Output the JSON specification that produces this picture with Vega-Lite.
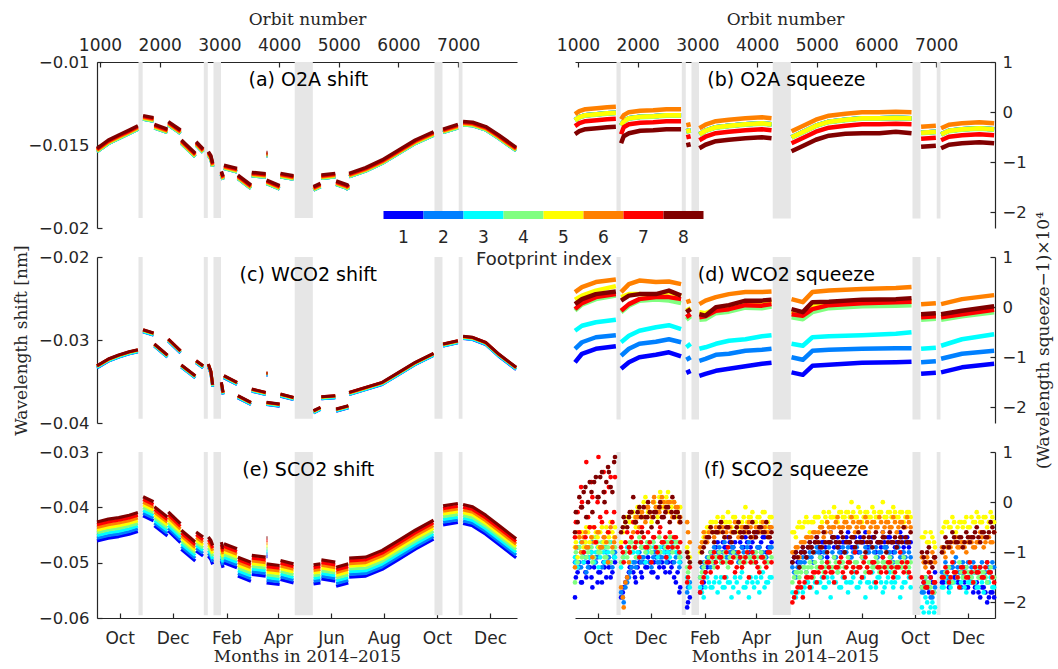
{
"$schema": "https://vega.github.io/schema/vega-lite/v6.json",
"background": "#ffffff",
"padding": {"left": 12, "top": 10, "right": 2, "bottom": 2},
"config": {
  "view": {"stroke": null},
  "font": "DejaVu Sans",
  "axis": {"grid": false, "labelFlush": false, "labelOverlap": false, "domainColor": "#262626", "domainWidth": 1.2, "tickColor": "#262626", "tickWidth": 1.2, "tickSize": -5, "labelColor": "#262626", "labelFont": "DejaVu Sans", "labelFontSize": 17, "titleColor": "#262626", "titleFont": "DejaVu Serif", "titleFontSize": 17, "titleFontWeight": "normal"},
  "axisLeft": {"labelPadding": 13, "labelFontSize": 16.5},
  "axisRight": {"labelPadding": 12, "labelFontSize": 16.5},
  "axisTop": {"labelPadding": 13},
  "axisBottom": {"labelPadding": 17}
},
"datasets": {
  "gaps": [{"o1":1645,"o2":1715},{"o1":2739,"o2":2806},{"o1":2901,"o2":3027},{"o1":4262,"o2":4565},{"o1":6603,"o2":6737},{"o1":7009,"o2":7072}],
  "cbar": [{"n":1,"fp":"f1"},{"n":2,"fp":"f2"},{"n":3,"fp":"f3"},{"n":4,"fp":"f4"},{"n":5,"fp":"f5"},{"n":6,"fp":"f6"},{"n":7,"fp":"f7"},{"n":8,"fp":"f8"}],
  "a": [
{"d":"2014-09-05","s":1,"f1":-0.0154,"f2":-0.0154,"f3":-0.0154,"f4":-0.0154,"f5":-0.01534,"f6":-0.01532,"f7":-0.01526,"f8":-0.0152},
{"d":"2014-09-18","s":1,"f1":-0.01491,"f2":-0.01491,"f3":-0.01491,"f4":-0.01491,"f5":-0.01485,"f6":-0.01483,"f7":-0.01477,"f8":-0.01471},
{"d":"2014-09-30","s":1,"f1":-0.0146,"f2":-0.0146,"f3":-0.0146,"f4":-0.0146,"f5":-0.01454,"f6":-0.01452,"f7":-0.01446,"f8":-0.0144},
{"d":"2014-10-12","s":1,"f1":-0.0143,"f2":-0.0143,"f3":-0.0143,"f4":-0.0143,"f5":-0.01424,"f6":-0.01422,"f7":-0.01416,"f8":-0.0141},
{"d":"2014-10-22","s":1,"f1":-0.01404,"f2":-0.01404,"f3":-0.01404,"f4":-0.01404,"f5":-0.01398,"f6":-0.01396,"f7":-0.0139,"f8":-0.01384},
{"d":"2014-10-28","s":2,"f1":-0.01343,"f2":-0.01343,"f3":-0.01343,"f4":-0.01343,"f5":-0.01337,"f6":-0.01335,"f7":-0.01329,"f8":-0.01323},
{"d":"2014-11-09","s":2,"f1":-0.01355,"f2":-0.01355,"f3":-0.01355,"f4":-0.01355,"f5":-0.01349,"f6":-0.01347,"f7":-0.01341,"f8":-0.01335},
{"d":"2014-11-10","s":3,"f1":-0.01396,"f2":-0.01396,"f3":-0.01396,"f4":-0.01396,"f5":-0.0139,"f6":-0.01388,"f7":-0.01382,"f8":-0.01376},
{"d":"2014-11-25","s":3,"f1":-0.01424,"f2":-0.01424,"f3":-0.01424,"f4":-0.01424,"f5":-0.01418,"f6":-0.01416,"f7":-0.0141,"f8":-0.01404},
{"d":"2014-11-26","s":4,"f1":-0.01379,"f2":-0.01379,"f3":-0.01379,"f4":-0.01379,"f5":-0.01373,"f6":-0.01371,"f7":-0.01365,"f8":-0.01359},
{"d":"2014-12-10","s":4,"f1":-0.0143,"f2":-0.0143,"f3":-0.0143,"f4":-0.0143,"f5":-0.01424,"f6":-0.01422,"f7":-0.01416,"f8":-0.0141},
{"d":"2014-12-11","s":5,"f1":-0.0149,"f2":-0.0149,"f3":-0.0149,"f4":-0.0149,"f5":-0.01484,"f6":-0.01482,"f7":-0.01476,"f8":-0.0147},
{"d":"2014-12-27","s":5,"f1":-0.0157,"f2":-0.0157,"f3":-0.0157,"f4":-0.0157,"f5":-0.01564,"f6":-0.01562,"f7":-0.01556,"f8":-0.0155},
{"d":"2014-12-28","s":6,"f1":-0.015,"f2":-0.015,"f3":-0.015,"f4":-0.015,"f5":-0.01494,"f6":-0.01492,"f7":-0.01486,"f8":-0.0148},
{"d":"2015-01-05","s":6,"f1":-0.01544,"f2":-0.01544,"f3":-0.01544,"f4":-0.01544,"f5":-0.01538,"f6":-0.01536,"f7":-0.0153,"f8":-0.01524},
{"d":"2015-01-11","s":7,"f1":-0.0156,"f2":-0.0156,"f3":-0.0156,"f4":-0.0156,"f5":-0.01554,"f6":-0.01552,"f7":-0.01546,"f8":-0.0154},
{"d":"2015-01-14","s":7,"f1":-0.01585,"f2":-0.01585,"f3":-0.01585,"f4":-0.01585,"f5":-0.01579,"f6":-0.01577,"f7":-0.01571,"f8":-0.01565},
{"d":"2015-01-16","s":7,"f1":-0.0163,"f2":-0.0163,"f3":-0.0163,"f4":-0.0163,"f5":-0.01624,"f6":-0.01622,"f7":-0.01616,"f8":-0.0161},
{"d":"2015-01-26","s":8,"f1":-0.01679,"f2":-0.01679,"f3":-0.01679,"f4":-0.01679,"f5":-0.01673,"f6":-0.01671,"f7":-0.01665,"f8":-0.01659},
{"d":"2015-01-28","s":8,"f1":-0.01709,"f2":-0.01709,"f3":-0.01709,"f4":-0.01709,"f5":-0.01703,"f6":-0.01701,"f7":-0.01695,"f8":-0.01689},
{"d":"2015-01-29","s":9,"f1":-0.01641,"f2":-0.01641,"f3":-0.01641,"f4":-0.01641,"f5":-0.01635,"f6":-0.01633,"f7":-0.01627,"f8":-0.01621},
{"d":"2015-02-13","s":9,"f1":-0.01661,"f2":-0.01661,"f3":-0.01661,"f4":-0.01661,"f5":-0.01655,"f6":-0.01653,"f7":-0.01647,"f8":-0.01641},
{"d":"2015-02-14","s":10,"f1":-0.01701,"f2":-0.01701,"f3":-0.01701,"f4":-0.01701,"f5":-0.01695,"f6":-0.01693,"f7":-0.01687,"f8":-0.01681},
{"d":"2015-03-01","s":10,"f1":-0.01761,"f2":-0.01761,"f3":-0.01761,"f4":-0.01761,"f5":-0.01755,"f6":-0.01753,"f7":-0.01747,"f8":-0.01741},
{"d":"2015-03-02","s":11,"f1":-0.01685,"f2":-0.01685,"f3":-0.01685,"f4":-0.01685,"f5":-0.01679,"f6":-0.01677,"f7":-0.01671,"f8":-0.01665},
{"d":"2015-03-18","s":11,"f1":-0.01693,"f2":-0.01693,"f3":-0.01693,"f4":-0.01693,"f5":-0.01687,"f6":-0.01685,"f7":-0.01679,"f8":-0.01673},
{"d":"2015-03-19","s":99,"f1":-0.01565,"f2":-0.01565,"f3":-0.01565,"f4":-0.01565,"f5":-0.01559,"f6":-0.01557,"f7":-0.01551,"f8":-0.01545},
{"d":"2015-03-20","s":99,"f1":-0.01565,"f2":-0.01565,"f3":-0.01565,"f4":-0.01565,"f5":-0.01559,"f6":-0.01557,"f7":-0.01551,"f8":-0.01545},
{"d":"2015-03-19","s":12,"f1":-0.01731,"f2":-0.01731,"f3":-0.01731,"f4":-0.01731,"f5":-0.01725,"f6":-0.01723,"f7":-0.01717,"f8":-0.01711},
{"d":"2015-04-03","s":12,"f1":-0.01765,"f2":-0.01765,"f3":-0.01765,"f4":-0.01765,"f5":-0.01759,"f6":-0.01757,"f7":-0.01751,"f8":-0.01745},
{"d":"2015-04-04","s":13,"f1":-0.01691,"f2":-0.01691,"f3":-0.01691,"f4":-0.01691,"f5":-0.01685,"f6":-0.01683,"f7":-0.01677,"f8":-0.01671},
{"d":"2015-04-19","s":13,"f1":-0.01705,"f2":-0.01705,"f3":-0.01705,"f4":-0.01705,"f5":-0.01699,"f6":-0.01697,"f7":-0.01691,"f8":-0.01685},
{"d":"2015-05-12","s":14,"f1":-0.01771,"f2":-0.01771,"f3":-0.01771,"f4":-0.01771,"f5":-0.01765,"f6":-0.01763,"f7":-0.01757,"f8":-0.01751},
{"d":"2015-05-20","s":14,"f1":-0.01751,"f2":-0.01751,"f3":-0.01751,"f4":-0.01751,"f5":-0.01745,"f6":-0.01743,"f7":-0.01737,"f8":-0.01731},
{"d":"2015-05-21","s":15,"f1":-0.01701,"f2":-0.01701,"f3":-0.01701,"f4":-0.01701,"f5":-0.01695,"f6":-0.01693,"f7":-0.01687,"f8":-0.01681},
{"d":"2015-06-06","s":15,"f1":-0.01691,"f2":-0.01691,"f3":-0.01691,"f4":-0.01691,"f5":-0.01685,"f6":-0.01683,"f7":-0.01677,"f8":-0.01671},
{"d":"2015-06-07","s":16,"f1":-0.01737,"f2":-0.01737,"f3":-0.01737,"f4":-0.01737,"f5":-0.01731,"f6":-0.01729,"f7":-0.01723,"f8":-0.01717},
{"d":"2015-06-20","s":16,"f1":-0.01761,"f2":-0.01761,"f3":-0.01761,"f4":-0.01761,"f5":-0.01755,"f6":-0.01753,"f7":-0.01747,"f8":-0.01741},
{"d":"2015-06-21","s":16,"f1":-0.0177,"f2":-0.0177,"f3":-0.0177,"f4":-0.0177,"f5":-0.01764,"f6":-0.01762,"f7":-0.01756,"f8":-0.0175},
{"d":"2015-06-22","s":17,"f1":-0.01691,"f2":-0.01691,"f3":-0.01691,"f4":-0.01691,"f5":-0.01685,"f6":-0.01683,"f7":-0.01677,"f8":-0.01671},
{"d":"2015-07-11","s":17,"f1":-0.01656,"f2":-0.01656,"f3":-0.01656,"f4":-0.01656,"f5":-0.0165,"f6":-0.01648,"f7":-0.01642,"f8":-0.01636},
{"d":"2015-07-30","s":17,"f1":-0.0161,"f2":-0.0161,"f3":-0.0161,"f4":-0.0161,"f5":-0.01604,"f6":-0.01602,"f7":-0.01596,"f8":-0.0159},
{"d":"2015-08-18","s":17,"f1":-0.0155,"f2":-0.0155,"f3":-0.0155,"f4":-0.0155,"f5":-0.01544,"f6":-0.01542,"f7":-0.01536,"f8":-0.0153},
{"d":"2015-09-06","s":17,"f1":-0.0149,"f2":-0.0149,"f3":-0.0149,"f4":-0.0149,"f5":-0.01484,"f6":-0.01482,"f7":-0.01476,"f8":-0.0147},
{"d":"2015-09-27","s":17,"f1":-0.0144,"f2":-0.0144,"f3":-0.0144,"f4":-0.0144,"f5":-0.01434,"f6":-0.01432,"f7":-0.01426,"f8":-0.0142},
{"d":"2015-10-08","s":18,"f1":-0.01424,"f2":-0.01424,"f3":-0.01424,"f4":-0.01424,"f5":-0.01418,"f6":-0.01416,"f7":-0.0141,"f8":-0.01404},
{"d":"2015-10-25","s":18,"f1":-0.01396,"f2":-0.01396,"f3":-0.01396,"f4":-0.01396,"f5":-0.0139,"f6":-0.01388,"f7":-0.01382,"f8":-0.01376},
{"d":"2015-10-31","s":19,"f1":-0.01379,"f2":-0.01379,"f3":-0.01379,"f4":-0.01379,"f5":-0.01373,"f6":-0.01371,"f7":-0.01365,"f8":-0.01359},
{"d":"2015-11-11","s":19,"f1":-0.01383,"f2":-0.01383,"f3":-0.01383,"f4":-0.01383,"f5":-0.01377,"f6":-0.01375,"f7":-0.01369,"f8":-0.01363},
{"d":"2015-11-26","s":19,"f1":-0.01409,"f2":-0.01409,"f3":-0.01409,"f4":-0.01409,"f5":-0.01403,"f6":-0.01401,"f7":-0.01395,"f8":-0.01389},
{"d":"2015-12-11","s":19,"f1":-0.0146,"f2":-0.0146,"f3":-0.0146,"f4":-0.0146,"f5":-0.01454,"f6":-0.01452,"f7":-0.01446,"f8":-0.0144},
{"d":"2015-12-31","s":19,"f1":-0.01534,"f2":-0.01534,"f3":-0.01534,"f4":-0.01534,"f5":-0.01528,"f6":-0.01526,"f7":-0.0152,"f8":-0.01514}
  ],
  "c": [
{"d":"2014-09-05","s":1,"f1":-0.03336,"f2":-0.03334,"f3":-0.03332,"f4":-0.0332,"f5":-0.03317,"f6":-0.03314,"f7":-0.03312,"f8":-0.0331},
{"d":"2014-09-18","s":1,"f1":-0.03255,"f2":-0.03253,"f3":-0.03251,"f4":-0.03239,"f5":-0.03236,"f6":-0.03233,"f7":-0.03231,"f8":-0.03229},
{"d":"2014-09-30","s":1,"f1":-0.03207,"f2":-0.03205,"f3":-0.03203,"f4":-0.03191,"f5":-0.03188,"f6":-0.03185,"f7":-0.03183,"f8":-0.03181},
{"d":"2014-10-12","s":1,"f1":-0.03167,"f2":-0.03165,"f3":-0.03163,"f4":-0.03151,"f5":-0.03148,"f6":-0.03145,"f7":-0.03143,"f8":-0.03141},
{"d":"2014-10-22","s":1,"f1":-0.03143,"f2":-0.03141,"f3":-0.03139,"f4":-0.03127,"f5":-0.03124,"f6":-0.03121,"f7":-0.03119,"f8":-0.03117},
{"d":"2014-10-28","s":2,"f1":-0.02902,"f2":-0.029,"f3":-0.02898,"f4":-0.02886,"f5":-0.02883,"f6":-0.0288,"f7":-0.02878,"f8":-0.02876},
{"d":"2014-11-09","s":2,"f1":-0.02942,"f2":-0.0294,"f3":-0.02938,"f4":-0.02926,"f5":-0.02923,"f6":-0.0292,"f7":-0.02918,"f8":-0.02916},
{"d":"2014-11-10","s":3,"f1":-0.03074,"f2":-0.03072,"f3":-0.0307,"f4":-0.03058,"f5":-0.03055,"f6":-0.03052,"f7":-0.0305,"f8":-0.03048},
{"d":"2014-11-25","s":3,"f1":-0.03207,"f2":-0.03205,"f3":-0.03203,"f4":-0.03191,"f5":-0.03188,"f6":-0.03185,"f7":-0.03183,"f8":-0.03181},
{"d":"2014-11-26","s":4,"f1":-0.03014,"f2":-0.03012,"f3":-0.0301,"f4":-0.02998,"f5":-0.02995,"f6":-0.02992,"f7":-0.0299,"f8":-0.02988},
{"d":"2014-12-10","s":4,"f1":-0.03155,"f2":-0.03153,"f3":-0.03151,"f4":-0.03139,"f5":-0.03136,"f6":-0.03133,"f7":-0.03131,"f8":-0.03129},
{"d":"2014-12-11","s":5,"f1":-0.03327,"f2":-0.03325,"f3":-0.03323,"f4":-0.03311,"f5":-0.03308,"f6":-0.03305,"f7":-0.03303,"f8":-0.03301},
{"d":"2014-12-27","s":5,"f1":-0.03456,"f2":-0.03454,"f3":-0.03452,"f4":-0.0344,"f5":-0.03437,"f6":-0.03434,"f7":-0.03432,"f8":-0.0343},
{"d":"2014-12-28","s":6,"f1":-0.03275,"f2":-0.03273,"f3":-0.03271,"f4":-0.03259,"f5":-0.03256,"f6":-0.03253,"f7":-0.03251,"f8":-0.03249},
{"d":"2015-01-05","s":6,"f1":-0.03336,"f2":-0.03334,"f3":-0.03332,"f4":-0.0332,"f5":-0.03317,"f6":-0.03314,"f7":-0.03312,"f8":-0.0331},
{"d":"2015-01-11","s":7,"f1":-0.03315,"f2":-0.03313,"f3":-0.03311,"f4":-0.03299,"f5":-0.03296,"f6":-0.03293,"f7":-0.03291,"f8":-0.03289},
{"d":"2015-01-14","s":7,"f1":-0.03404,"f2":-0.03402,"f3":-0.034,"f4":-0.03388,"f5":-0.03385,"f6":-0.03382,"f7":-0.0338,"f8":-0.03378},
{"d":"2015-01-16","s":7,"f1":-0.03564,"f2":-0.03562,"f3":-0.0356,"f4":-0.03548,"f5":-0.03545,"f6":-0.03542,"f7":-0.0354,"f8":-0.03538},
{"d":"2015-01-26","s":8,"f1":-0.03536,"f2":-0.03534,"f3":-0.03532,"f4":-0.0352,"f5":-0.03517,"f6":-0.03514,"f7":-0.03512,"f8":-0.0351},
{"d":"2015-01-28","s":8,"f1":-0.03657,"f2":-0.03655,"f3":-0.03653,"f4":-0.03641,"f5":-0.03638,"f6":-0.03635,"f7":-0.03633,"f8":-0.03631},
{"d":"2015-01-29","s":9,"f1":-0.03456,"f2":-0.03454,"f3":-0.03452,"f4":-0.0344,"f5":-0.03437,"f6":-0.03434,"f7":-0.03432,"f8":-0.0343},
{"d":"2015-02-13","s":9,"f1":-0.03536,"f2":-0.03534,"f3":-0.03532,"f4":-0.0352,"f5":-0.03517,"f6":-0.03514,"f7":-0.03512,"f8":-0.0351},
{"d":"2015-02-14","s":10,"f1":-0.03697,"f2":-0.03695,"f3":-0.03693,"f4":-0.03681,"f5":-0.03678,"f6":-0.03675,"f7":-0.03673,"f8":-0.03671},
{"d":"2015-03-01","s":10,"f1":-0.03777,"f2":-0.03775,"f3":-0.03773,"f4":-0.03761,"f5":-0.03758,"f6":-0.03755,"f7":-0.03753,"f8":-0.03751},
{"d":"2015-03-02","s":11,"f1":-0.03617,"f2":-0.03615,"f3":-0.03613,"f4":-0.03601,"f5":-0.03598,"f6":-0.03595,"f7":-0.03593,"f8":-0.03591},
{"d":"2015-03-18","s":11,"f1":-0.03657,"f2":-0.03655,"f3":-0.03653,"f4":-0.03641,"f5":-0.03638,"f6":-0.03635,"f7":-0.03633,"f8":-0.03631},
{"d":"2015-03-19","s":99,"f1":-0.03424,"f2":-0.03422,"f3":-0.0342,"f4":-0.03408,"f5":-0.03405,"f6":-0.03402,"f7":-0.034,"f8":-0.03398},
{"d":"2015-03-20","s":99,"f1":-0.03424,"f2":-0.03422,"f3":-0.0342,"f4":-0.03408,"f5":-0.03405,"f6":-0.03402,"f7":-0.034,"f8":-0.03398},
{"d":"2015-03-19","s":12,"f1":-0.03777,"f2":-0.03775,"f3":-0.03773,"f4":-0.03761,"f5":-0.03758,"f6":-0.03755,"f7":-0.03753,"f8":-0.03751},
{"d":"2015-04-03","s":12,"f1":-0.03797,"f2":-0.03795,"f3":-0.03793,"f4":-0.03781,"f5":-0.03778,"f6":-0.03775,"f7":-0.03773,"f8":-0.03771},
{"d":"2015-04-04","s":13,"f1":-0.03677,"f2":-0.03675,"f3":-0.03673,"f4":-0.03661,"f5":-0.03658,"f6":-0.03655,"f7":-0.03653,"f8":-0.03651},
{"d":"2015-04-19","s":13,"f1":-0.03717,"f2":-0.03715,"f3":-0.03713,"f4":-0.03701,"f5":-0.03698,"f6":-0.03695,"f7":-0.03693,"f8":-0.03691},
{"d":"2015-05-12","s":14,"f1":-0.03878,"f2":-0.03876,"f3":-0.03874,"f4":-0.03862,"f5":-0.03859,"f6":-0.03856,"f7":-0.03854,"f8":-0.03852},
{"d":"2015-05-20","s":14,"f1":-0.03837,"f2":-0.03835,"f3":-0.03833,"f4":-0.03821,"f5":-0.03818,"f6":-0.03815,"f7":-0.03813,"f8":-0.03811},
{"d":"2015-05-21","s":15,"f1":-0.03709,"f2":-0.03707,"f3":-0.03705,"f4":-0.03693,"f5":-0.0369,"f6":-0.03687,"f7":-0.03685,"f8":-0.03683},
{"d":"2015-06-06","s":15,"f1":-0.03697,"f2":-0.03695,"f3":-0.03693,"f4":-0.03681,"f5":-0.03678,"f6":-0.03675,"f7":-0.03673,"f8":-0.03671},
{"d":"2015-06-07","s":16,"f1":-0.03858,"f2":-0.03856,"f3":-0.03854,"f4":-0.03842,"f5":-0.03839,"f6":-0.03836,"f7":-0.03834,"f8":-0.03832},
{"d":"2015-06-21","s":16,"f1":-0.03818,"f2":-0.03816,"f3":-0.03814,"f4":-0.03802,"f5":-0.03799,"f6":-0.03796,"f7":-0.03794,"f8":-0.03792},
{"d":"2015-06-22","s":17,"f1":-0.03657,"f2":-0.03655,"f3":-0.03653,"f4":-0.03641,"f5":-0.03638,"f6":-0.03635,"f7":-0.03633,"f8":-0.03631},
{"d":"2015-07-11","s":17,"f1":-0.03597,"f2":-0.03595,"f3":-0.03593,"f4":-0.03581,"f5":-0.03578,"f6":-0.03575,"f7":-0.03573,"f8":-0.03571},
{"d":"2015-07-30","s":17,"f1":-0.03536,"f2":-0.03534,"f3":-0.03532,"f4":-0.0352,"f5":-0.03517,"f6":-0.03514,"f7":-0.03512,"f8":-0.0351},
{"d":"2015-08-18","s":17,"f1":-0.03416,"f2":-0.03414,"f3":-0.03412,"f4":-0.034,"f5":-0.03397,"f6":-0.03394,"f7":-0.03392,"f8":-0.0339},
{"d":"2015-09-06","s":17,"f1":-0.03295,"f2":-0.03293,"f3":-0.03291,"f4":-0.03279,"f5":-0.03276,"f6":-0.03273,"f7":-0.03271,"f8":-0.03269},
{"d":"2015-09-27","s":17,"f1":-0.03187,"f2":-0.03185,"f3":-0.03183,"f4":-0.03171,"f5":-0.03168,"f6":-0.03165,"f7":-0.03163,"f8":-0.03161},
{"d":"2015-10-08","s":18,"f1":-0.03074,"f2":-0.03072,"f3":-0.0307,"f4":-0.03058,"f5":-0.03055,"f6":-0.03052,"f7":-0.0305,"f8":-0.03048},
{"d":"2015-10-25","s":18,"f1":-0.03034,"f2":-0.03032,"f3":-0.0303,"f4":-0.03018,"f5":-0.03015,"f6":-0.03012,"f7":-0.0301,"f8":-0.03008},
{"d":"2015-10-31","s":19,"f1":-0.02982,"f2":-0.0298,"f3":-0.02978,"f4":-0.02966,"f5":-0.02963,"f6":-0.0296,"f7":-0.02958,"f8":-0.02956},
{"d":"2015-11-11","s":19,"f1":-0.02994,"f2":-0.02992,"f3":-0.0299,"f4":-0.02978,"f5":-0.02975,"f6":-0.02972,"f7":-0.0297,"f8":-0.02968},
{"d":"2015-11-26","s":19,"f1":-0.03054,"f2":-0.03052,"f3":-0.0305,"f4":-0.03038,"f5":-0.03035,"f6":-0.03032,"f7":-0.0303,"f8":-0.03028},
{"d":"2015-12-11","s":19,"f1":-0.03195,"f2":-0.03193,"f3":-0.03191,"f4":-0.03179,"f5":-0.03176,"f6":-0.03173,"f7":-0.03171,"f8":-0.03169},
{"d":"2015-12-31","s":19,"f1":-0.03355,"f2":-0.03353,"f3":-0.03351,"f4":-0.03339,"f5":-0.03336,"f6":-0.03333,"f7":-0.03331,"f8":-0.03329}
  ],
  "e": [
{"d":"2014-09-05","s":1,"f1":-0.04607,"f2":-0.04558,"f3":-0.04509,"f4":-0.0446,"f5":-0.04411,"f6":-0.04362,"f7":-0.04313,"f8":-0.04264},
{"d":"2014-09-18","s":1,"f1":-0.04557,"f2":-0.04508,"f3":-0.04459,"f4":-0.0441,"f5":-0.04361,"f6":-0.04312,"f7":-0.04263,"f8":-0.04214},
{"d":"2014-09-30","s":1,"f1":-0.04528,"f2":-0.04479,"f3":-0.0443,"f4":-0.04381,"f5":-0.04332,"f6":-0.04283,"f7":-0.04234,"f8":-0.04185},
{"d":"2014-10-12","s":1,"f1":-0.04485,"f2":-0.04436,"f3":-0.04387,"f4":-0.04338,"f5":-0.04289,"f6":-0.0424,"f7":-0.04191,"f8":-0.04142},
{"d":"2014-10-22","s":1,"f1":-0.04437,"f2":-0.04388,"f3":-0.04339,"f4":-0.0429,"f5":-0.04241,"f6":-0.04192,"f7":-0.04143,"f8":-0.04094},
{"d":"2014-10-28","s":2,"f1":-0.04152,"f2":-0.04103,"f3":-0.04054,"f4":-0.04005,"f5":-0.03956,"f6":-0.03907,"f7":-0.03858,"f8":-0.03809},
{"d":"2014-11-09","s":2,"f1":-0.04243,"f2":-0.04194,"f3":-0.04145,"f4":-0.04096,"f5":-0.04047,"f6":-0.03998,"f7":-0.03949,"f8":-0.039},
{"d":"2014-11-10","s":3,"f1":-0.04334,"f2":-0.04285,"f3":-0.04236,"f4":-0.04187,"f5":-0.04138,"f6":-0.04089,"f7":-0.0404,"f8":-0.03991},
{"d":"2014-11-25","s":3,"f1":-0.04516,"f2":-0.04467,"f3":-0.04418,"f4":-0.04369,"f5":-0.0432,"f6":-0.04271,"f7":-0.04222,"f8":-0.04173},
{"d":"2014-11-26","s":4,"f1":-0.04425,"f2":-0.04376,"f3":-0.04327,"f4":-0.04278,"f5":-0.04229,"f6":-0.0418,"f7":-0.04131,"f8":-0.04082},
{"d":"2014-12-10","s":4,"f1":-0.04637,"f2":-0.04588,"f3":-0.04539,"f4":-0.0449,"f5":-0.04441,"f6":-0.04392,"f7":-0.04343,"f8":-0.04294},
{"d":"2014-12-11","s":5,"f1":-0.04757,"f2":-0.04708,"f3":-0.04659,"f4":-0.0461,"f5":-0.04561,"f6":-0.04512,"f7":-0.04463,"f8":-0.04414},
{"d":"2014-12-27","s":5,"f1":-0.0497,"f2":-0.04921,"f3":-0.04872,"f4":-0.04823,"f5":-0.04774,"f6":-0.04725,"f7":-0.04676,"f8":-0.04627},
{"d":"2014-12-28","s":6,"f1":-0.04788,"f2":-0.04739,"f3":-0.0469,"f4":-0.04641,"f5":-0.04592,"f6":-0.04543,"f7":-0.04494,"f8":-0.04445},
{"d":"2015-01-05","s":6,"f1":-0.04879,"f2":-0.0483,"f3":-0.04781,"f4":-0.04732,"f5":-0.04683,"f6":-0.04634,"f7":-0.04585,"f8":-0.04536},
{"d":"2015-01-11","s":7,"f1":-0.04879,"f2":-0.0483,"f3":-0.04781,"f4":-0.04732,"f5":-0.04683,"f6":-0.04634,"f7":-0.04585,"f8":-0.04536},
{"d":"2015-01-14","s":7,"f1":-0.04943,"f2":-0.04894,"f3":-0.04845,"f4":-0.04796,"f5":-0.04747,"f6":-0.04698,"f7":-0.04649,"f8":-0.046},
{"d":"2015-01-16","s":7,"f1":-0.05031,"f2":-0.04982,"f3":-0.04933,"f4":-0.04884,"f5":-0.04835,"f6":-0.04786,"f7":-0.04737,"f8":-0.04688},
{"d":"2015-01-26","s":8,"f1":-0.0497,"f2":-0.04921,"f3":-0.04872,"f4":-0.04823,"f5":-0.04774,"f6":-0.04725,"f7":-0.04676,"f8":-0.04627},
{"d":"2015-01-28","s":8,"f1":-0.05092,"f2":-0.05043,"f3":-0.04994,"f4":-0.04945,"f5":-0.04896,"f6":-0.04847,"f7":-0.04798,"f8":-0.04749},
{"d":"2015-01-29","s":9,"f1":-0.05001,"f2":-0.04952,"f3":-0.04903,"f4":-0.04854,"f5":-0.04805,"f6":-0.04756,"f7":-0.04707,"f8":-0.04658},
{"d":"2015-02-13","s":9,"f1":-0.05092,"f2":-0.05043,"f3":-0.04994,"f4":-0.04945,"f5":-0.04896,"f6":-0.04847,"f7":-0.04798,"f8":-0.04749},
{"d":"2015-02-14","s":10,"f1":-0.05243,"f2":-0.05194,"f3":-0.05145,"f4":-0.05096,"f5":-0.05047,"f6":-0.04998,"f7":-0.04949,"f8":-0.049},
{"d":"2015-03-01","s":10,"f1":-0.05334,"f2":-0.05285,"f3":-0.05236,"f4":-0.05187,"f5":-0.05138,"f6":-0.05089,"f7":-0.0504,"f8":-0.04991},
{"d":"2015-03-02","s":11,"f1":-0.05212,"f2":-0.05163,"f3":-0.05114,"f4":-0.05065,"f5":-0.05016,"f6":-0.04967,"f7":-0.04918,"f8":-0.04869},
{"d":"2015-03-18","s":11,"f1":-0.05243,"f2":-0.05194,"f3":-0.05145,"f4":-0.05096,"f5":-0.05047,"f6":-0.04998,"f7":-0.04949,"f8":-0.049},
{"d":"2015-03-19","s":99,"f1":-0.04893,"f2":-0.04844,"f3":-0.04795,"f4":-0.04746,"f5":-0.04697,"f6":-0.04648,"f7":-0.04599,"f8":-0.0455},
{"d":"2015-03-20","s":99,"f1":-0.04893,"f2":-0.04844,"f3":-0.04795,"f4":-0.04746,"f5":-0.04697,"f6":-0.04648,"f7":-0.04599,"f8":-0.0455},
{"d":"2015-03-19","s":12,"f1":-0.05365,"f2":-0.05316,"f3":-0.05267,"f4":-0.05218,"f5":-0.05169,"f6":-0.0512,"f7":-0.05071,"f8":-0.05022},
{"d":"2015-04-03","s":12,"f1":-0.05394,"f2":-0.05345,"f3":-0.05296,"f4":-0.05247,"f5":-0.05198,"f6":-0.05149,"f7":-0.051,"f8":-0.05051},
{"d":"2015-04-04","s":13,"f1":-0.05303,"f2":-0.05254,"f3":-0.05205,"f4":-0.05156,"f5":-0.05107,"f6":-0.05058,"f7":-0.05009,"f8":-0.0496},
{"d":"2015-04-19","s":13,"f1":-0.05365,"f2":-0.05316,"f3":-0.05267,"f4":-0.05218,"f5":-0.05169,"f6":-0.0512,"f7":-0.05071,"f8":-0.05022},
{"d":"2015-05-12","s":14,"f1":-0.05383,"f2":-0.05334,"f3":-0.05285,"f4":-0.05236,"f5":-0.05187,"f6":-0.05138,"f7":-0.05089,"f8":-0.0504},
{"d":"2015-05-20","s":14,"f1":-0.05365,"f2":-0.05316,"f3":-0.05267,"f4":-0.05218,"f5":-0.05169,"f6":-0.0512,"f7":-0.05071,"f8":-0.05022},
{"d":"2015-05-21","s":15,"f1":-0.05292,"f2":-0.05243,"f3":-0.05194,"f4":-0.05145,"f5":-0.05096,"f6":-0.05047,"f7":-0.04998,"f8":-0.04949},
{"d":"2015-06-06","s":15,"f1":-0.05334,"f2":-0.05285,"f3":-0.05236,"f4":-0.05187,"f5":-0.05138,"f6":-0.05089,"f7":-0.0504,"f8":-0.04991},
{"d":"2015-06-07","s":16,"f1":-0.05425,"f2":-0.05376,"f3":-0.05327,"f4":-0.05278,"f5":-0.05229,"f6":-0.0518,"f7":-0.05131,"f8":-0.05082},
{"d":"2015-06-21","s":16,"f1":-0.05365,"f2":-0.05316,"f3":-0.05267,"f4":-0.05218,"f5":-0.05169,"f6":-0.0512,"f7":-0.05071,"f8":-0.05022},
{"d":"2015-06-22","s":17,"f1":-0.05261,"f2":-0.05212,"f3":-0.05163,"f4":-0.05114,"f5":-0.05065,"f6":-0.05016,"f7":-0.04967,"f8":-0.04918},
{"d":"2015-07-11","s":17,"f1":-0.05243,"f2":-0.05194,"f3":-0.05145,"f4":-0.05096,"f5":-0.05047,"f6":-0.04998,"f7":-0.04949,"f8":-0.049},
{"d":"2015-07-30","s":17,"f1":-0.05121,"f2":-0.05072,"f3":-0.05023,"f4":-0.04974,"f5":-0.04925,"f6":-0.04876,"f7":-0.04827,"f8":-0.04778},
{"d":"2015-08-18","s":17,"f1":-0.04939,"f2":-0.0489,"f3":-0.04841,"f4":-0.04792,"f5":-0.04743,"f6":-0.04694,"f7":-0.04645,"f8":-0.04596},
{"d":"2015-09-06","s":17,"f1":-0.04757,"f2":-0.04708,"f3":-0.04659,"f4":-0.0461,"f5":-0.04561,"f6":-0.04512,"f7":-0.04463,"f8":-0.04414},
{"d":"2015-09-27","s":17,"f1":-0.04576,"f2":-0.04527,"f3":-0.04478,"f4":-0.04429,"f5":-0.0438,"f6":-0.04331,"f7":-0.04282,"f8":-0.04233},
{"d":"2015-10-08","s":18,"f1":-0.04316,"f2":-0.04267,"f3":-0.04218,"f4":-0.04169,"f5":-0.0412,"f6":-0.04071,"f7":-0.04022,"f8":-0.03973},
{"d":"2015-10-25","s":18,"f1":-0.04274,"f2":-0.04225,"f3":-0.04176,"f4":-0.04127,"f5":-0.04078,"f6":-0.04029,"f7":-0.0398,"f8":-0.03931},
{"d":"2015-10-31","s":19,"f1":-0.04292,"f2":-0.04243,"f3":-0.04194,"f4":-0.04145,"f5":-0.04096,"f6":-0.04047,"f7":-0.03998,"f8":-0.03949},
{"d":"2015-11-11","s":19,"f1":-0.04334,"f2":-0.04285,"f3":-0.04236,"f4":-0.04187,"f5":-0.04138,"f6":-0.04089,"f7":-0.0404,"f8":-0.03991},
{"d":"2015-11-26","s":19,"f1":-0.04485,"f2":-0.04436,"f3":-0.04387,"f4":-0.04338,"f5":-0.04289,"f6":-0.0424,"f7":-0.04191,"f8":-0.04142},
{"d":"2015-12-11","s":19,"f1":-0.04667,"f2":-0.04618,"f3":-0.04569,"f4":-0.0452,"f5":-0.04471,"f6":-0.04422,"f7":-0.04373,"f8":-0.04324},
{"d":"2015-12-31","s":19,"f1":-0.0491,"f2":-0.04861,"f3":-0.04812,"f4":-0.04763,"f5":-0.04714,"f6":-0.04665,"f7":-0.04616,"f8":-0.04567}
  ],
  "b": [
{"d":"2014-09-05","s":1,"f1":-0.16,"f2":-0.16,"f3":-0.16,"f4":-0.17,"f5":-0.16,"f6":-0.04,"f7":-0.28,"f8":-0.44},
{"d":"2014-09-10","s":1,"f1":-0.10,"f2":-0.10,"f3":-0.10,"f4":-0.11,"f5":-0.10,"f6":0.02,"f7":-0.22,"f8":-0.38},
{"d":"2014-09-17","s":1,"f1":-0.06,"f2":-0.06,"f3":-0.06,"f4":-0.07,"f5":-0.06,"f6":0.06,"f7":-0.18,"f8":-0.34},
{"d":"2014-09-30","s":1,"f1":-0.04,"f2":-0.04,"f3":-0.04,"f4":-0.05,"f5":-0.04,"f6":0.08,"f7":-0.16,"f8":-0.32},
{"d":"2014-10-12","s":1,"f1":-0.02,"f2":-0.02,"f3":-0.02,"f4":-0.03,"f5":-0.02,"f6":0.10,"f7":-0.14,"f8":-0.30},
{"d":"2014-10-22","s":1,"f1":-0.01,"f2":-0.01,"f3":-0.01,"f4":-0.02,"f5":-0.01,"f6":0.11,"f7":-0.13,"f8":-0.29},
{"d":"2014-10-28","s":2,"f1":-0.26,"f2":-0.26,"f3":-0.26,"f4":-0.27,"f5":-0.26,"f6":-0.14,"f7":-0.44,"f8":-0.62},
{"d":"2014-10-31","s":2,"f1":-0.18,"f2":-0.18,"f3":-0.18,"f4":-0.19,"f5":-0.18,"f6":-0.06,"f7":-0.30,"f8":-0.48},
{"d":"2014-11-06","s":2,"f1":-0.12,"f2":-0.12,"f3":-0.12,"f4":-0.13,"f5":-0.12,"f6":0.0,"f7":-0.24,"f8":-0.42},
{"d":"2014-11-19","s":2,"f1":-0.09,"f2":-0.09,"f3":-0.09,"f4":-0.10,"f5":-0.09,"f6":0.03,"f7":-0.21,"f8":-0.37},
{"d":"2014-12-04","s":2,"f1":-0.08,"f2":-0.08,"f3":-0.08,"f4":-0.09,"f5":-0.08,"f6":0.04,"f7":-0.20,"f8":-0.36},
{"d":"2014-12-19","s":2,"f1":-0.06,"f2":-0.06,"f3":-0.06,"f4":-0.07,"f5":-0.06,"f6":0.06,"f7":-0.18,"f8":-0.34},
{"d":"2015-01-05","s":2,"f1":-0.06,"f2":-0.06,"f3":-0.06,"f4":-0.07,"f5":-0.06,"f6":0.06,"f7":-0.18,"f8":-0.34},
{"d":"2015-01-11","s":3,"f1":-0.38,"f2":-0.38,"f3":-0.38,"f4":-0.39,"f5":-0.38,"f6":-0.26,"f7":-0.50,"f8":-0.66},
{"d":"2015-01-16","s":3,"f1":-0.36,"f2":-0.36,"f3":-0.36,"f4":-0.37,"f5":-0.36,"f6":-0.24,"f7":-0.48,"f8":-0.64},
{"d":"2015-01-26","s":4,"f1":-0.44,"f2":-0.44,"f3":-0.44,"f4":-0.45,"f5":-0.44,"f6":-0.32,"f7":-0.56,"f8":-0.72},
{"d":"2015-02-02","s":4,"f1":-0.37,"f2":-0.37,"f3":-0.37,"f4":-0.38,"f5":-0.37,"f6":-0.25,"f7":-0.49,"f8":-0.65},
{"d":"2015-02-14","s":4,"f1":-0.30,"f2":-0.30,"f3":-0.30,"f4":-0.31,"f5":-0.30,"f6":-0.18,"f7":-0.42,"f8":-0.58},
{"d":"2015-03-01","s":4,"f1":-0.27,"f2":-0.27,"f3":-0.27,"f4":-0.28,"f5":-0.27,"f6":-0.15,"f7":-0.39,"f8":-0.55},
{"d":"2015-03-20","s":4,"f1":-0.24,"f2":-0.24,"f3":-0.24,"f4":-0.25,"f5":-0.24,"f6":-0.12,"f7":-0.36,"f8":-0.52},
{"d":"2015-04-08","s":4,"f1":-0.22,"f2":-0.22,"f3":-0.22,"f4":-0.23,"f5":-0.22,"f6":-0.10,"f7":-0.34,"f8":-0.50},
{"d":"2015-04-19","s":4,"f1":-0.24,"f2":-0.24,"f3":-0.24,"f4":-0.25,"f5":-0.24,"f6":-0.12,"f7":-0.36,"f8":-0.52},
{"d":"2015-05-12","s":5,"f1":-0.50,"f2":-0.50,"f3":-0.50,"f4":-0.51,"f5":-0.50,"f6":-0.38,"f7":-0.62,"f8":-0.78},
{"d":"2015-05-17","s":5,"f1":-0.46,"f2":-0.46,"f3":-0.46,"f4":-0.47,"f5":-0.46,"f6":-0.34,"f7":-0.58,"f8":-0.74},
{"d":"2015-05-28","s":5,"f1":-0.37,"f2":-0.37,"f3":-0.37,"f4":-0.38,"f5":-0.37,"f6":-0.25,"f7":-0.49,"f8":-0.65},
{"d":"2015-06-09","s":5,"f1":-0.27,"f2":-0.27,"f3":-0.27,"f4":-0.28,"f5":-0.27,"f6":-0.15,"f7":-0.39,"f8":-0.55},
{"d":"2015-06-24","s":5,"f1":-0.19,"f2":-0.19,"f3":-0.19,"f4":-0.20,"f5":-0.19,"f6":-0.07,"f7":-0.31,"f8":-0.47},
{"d":"2015-07-13","s":5,"f1":-0.15,"f2":-0.15,"f3":-0.15,"f4":-0.16,"f5":-0.15,"f6":-0.03,"f7":-0.27,"f8":-0.43},
{"d":"2015-08-01","s":5,"f1":-0.12,"f2":-0.12,"f3":-0.12,"f4":-0.13,"f5":-0.12,"f6":0.0,"f7":-0.24,"f8":-0.42},
{"d":"2015-08-21","s":5,"f1":-0.12,"f2":-0.12,"f3":-0.12,"f4":-0.13,"f5":-0.12,"f6":0.0,"f7":-0.24,"f8":-0.42},
{"d":"2015-09-09","s":5,"f1":-0.11,"f2":-0.11,"f3":-0.11,"f4":-0.12,"f5":-0.11,"f6":0.01,"f7":-0.23,"f8":-0.39},
{"d":"2015-09-27","s":5,"f1":-0.12,"f2":-0.12,"f3":-0.12,"f4":-0.13,"f5":-0.12,"f6":0.0,"f7":-0.24,"f8":-0.42},
{"d":"2015-10-08","s":6,"f1":-0.41,"f2":-0.41,"f3":-0.41,"f4":-0.42,"f5":-0.41,"f6":-0.29,"f7":-0.53,"f8":-0.69},
{"d":"2015-10-25","s":6,"f1":-0.39,"f2":-0.39,"f3":-0.39,"f4":-0.40,"f5":-0.39,"f6":-0.27,"f7":-0.51,"f8":-0.67},
{"d":"2015-10-31","s":7,"f1":-0.44,"f2":-0.44,"f3":-0.44,"f4":-0.45,"f5":-0.44,"f6":-0.32,"f7":-0.56,"f8":-0.72},
{"d":"2015-11-09","s":7,"f1":-0.37,"f2":-0.37,"f3":-0.37,"f4":-0.38,"f5":-0.37,"f6":-0.25,"f7":-0.49,"f8":-0.65},
{"d":"2015-11-24","s":7,"f1":-0.34,"f2":-0.34,"f3":-0.34,"f4":-0.35,"f5":-0.34,"f6":-0.22,"f7":-0.46,"f8":-0.62},
{"d":"2015-12-14","s":7,"f1":-0.32,"f2":-0.32,"f3":-0.32,"f4":-0.33,"f5":-0.32,"f6":-0.20,"f7":-0.44,"f8":-0.60},
{"d":"2015-12-31","s":7,"f1":-0.34,"f2":-0.34,"f3":-0.34,"f4":-0.35,"f5":-0.34,"f6":-0.22,"f7":-0.46,"f8":-0.62}
  ],
  "dd": [
{"d":"2014-09-05","s":1,"f1":-1.10,"f2":-0.83,"f3":-0.47,"f4":-0.07,"f5":0.15,"f6":0.30,"f7":-0.04,"f8":0.06},
{"d":"2014-09-13","s":1,"f1":-0.93,"f2":-0.70,"f3":-0.37,"f4":0.05,"f5":0.23,"f6":0.40,"f7":0.08,"f8":0.16},
{"d":"2014-09-29","s":1,"f1":-0.83,"f2":-0.60,"f3":-0.30,"f4":0.16,"f5":0.33,"f6":0.50,"f7":0.20,"f8":0.26},
{"d":"2014-10-22","s":1,"f1":-0.78,"f2":-0.56,"f3":-0.25,"f4":0.23,"f5":0.42,"f6":0.55,"f7":0.26,"f8":0.31},
{"d":"2014-10-28","s":2,"f1":-1.23,"f2":-0.97,"f3":-0.70,"f4":-0.10,"f5":0.20,"f6":0.30,"f7":-0.07,"f8":0.13},
{"d":"2014-11-06","s":2,"f1":-1.10,"f2":-0.83,"f3":-0.57,"f4":0.03,"f5":0.26,"f6":0.46,"f7":0.06,"f8":0.23},
{"d":"2014-11-18","s":2,"f1":-1.00,"f2":-0.73,"f3":-0.47,"f4":0.13,"f5":0.26,"f6":0.53,"f7":0.16,"f8":0.26},
{"d":"2014-12-07","s":2,"f1":-0.95,"f2":-0.69,"f3":-0.40,"f4":0.15,"f5":0.23,"f6":0.50,"f7":0.20,"f8":0.26},
{"d":"2014-12-22","s":2,"f1":-0.90,"f2":-0.64,"f3":-0.36,"f4":0.13,"f5":0.30,"f6":0.51,"f7":0.20,"f8":0.33},
{"d":"2015-01-05","s":2,"f1":-0.98,"f2":-0.70,"f3":-0.44,"f4":0.08,"f5":0.22,"f6":0.46,"f7":0.16,"f8":0.23},
{"d":"2015-01-11","s":3,"f1":-1.31,"f2":-1.05,"f3":-0.80,"f4":-0.25,"f5":-0.07,"f6":0.10,"f7":-0.20,"f8":-0.10},
{"d":"2015-01-16","s":3,"f1":-1.27,"f2":-1.00,"f3":-0.73,"f4":-0.18,"f5":-0.02,"f6":0.13,"f7":-0.14,"f8":-0.04},
{"d":"2015-01-26","s":4,"f1":-1.37,"f2":-1.07,"f3":-0.83,"f4":-0.25,"f5":-0.10,"f6":0.06,"f7":-0.20,"f8":-0.14},
{"d":"2015-02-02","s":4,"f1":-1.33,"f2":-1.03,"f3":-0.80,"f4":-0.24,"f5":-0.12,"f6":0.13,"f7":-0.18,"f8":-0.17},
{"d":"2015-02-14","s":4,"f1":-1.27,"f2":-0.95,"f3":-0.73,"f4":-0.12,"f5":-0.04,"f6":0.20,"f7":-0.07,"f8":0.0},
{"d":"2015-03-01","s":4,"f1":-1.23,"f2":-0.93,"f3":-0.67,"f4":-0.09,"f5":0.02,"f6":0.26,"f7":-0.04,"f8":0.04},
{"d":"2015-03-20","s":4,"f1":-1.18,"f2":-0.87,"f3":-0.64,"f4":-0.01,"f5":0.08,"f6":0.30,"f7":0.04,"f8":0.13},
{"d":"2015-04-08","s":4,"f1":-1.13,"f2":-0.85,"f3":-0.58,"f4":-0.02,"f5":0.10,"f6":0.30,"f7":0.03,"f8":0.13},
{"d":"2015-04-19","s":4,"f1":-1.11,"f2":-0.83,"f3":-0.56,"f4":0.01,"f5":0.11,"f6":0.31,"f7":0.06,"f8":0.15},
{"d":"2015-05-12","s":5,"f1":-1.30,"f2":-1.00,"f3":-0.73,"f4":-0.20,"f5":-0.09,"f6":0.16,"f7":-0.14,"f8":-0.04},
{"d":"2015-05-25","s":5,"f1":-1.35,"f2":-1.05,"f3":-0.77,"f4":-0.24,"f5":-0.16,"f6":0.10,"f7":-0.17,"f8":-0.10},
{"d":"2015-06-05","s":5,"f1":-1.17,"f2":-0.87,"f3":-0.60,"f4":-0.10,"f5":0.04,"f6":0.30,"f7":-0.04,"f8":0.10},
{"d":"2015-06-24","s":5,"f1":-1.15,"f2":-0.85,"f3":-0.58,"f4":-0.02,"f5":0.06,"f6":0.33,"f7":0.04,"f8":0.11},
{"d":"2015-08-01","s":5,"f1":-1.11,"f2":-0.83,"f3":-0.56,"f4":0.02,"f5":0.10,"f6":0.36,"f7":0.08,"f8":0.15},
{"d":"2015-09-09","s":5,"f1":-1.10,"f2":-0.82,"f3":-0.53,"f4":0.03,"f5":0.11,"f6":0.38,"f7":0.10,"f8":0.16},
{"d":"2015-09-27","s":5,"f1":-1.09,"f2":-0.82,"f3":-0.50,"f4":0.04,"f5":0.12,"f6":0.40,"f7":0.11,"f8":0.18},
{"d":"2015-10-08","s":6,"f1":-1.33,"f2":-1.10,"f3":-0.83,"f4":-0.25,"f5":-0.17,"f6":0.06,"f7":-0.20,"f8":-0.14},
{"d":"2015-10-25","s":6,"f1":-1.31,"f2":-1.08,"f3":-0.81,"f4":-0.23,"f5":-0.15,"f6":0.08,"f7":-0.18,"f8":-0.12},
{"d":"2015-10-31","s":7,"f1":-1.30,"f2":-1.03,"f3":-0.77,"f4":-0.25,"f5":-0.18,"f6":0.06,"f7":-0.20,"f8":-0.14},
{"d":"2015-11-24","s":7,"f1":-1.20,"f2":-0.93,"f3":-0.64,"f4":-0.18,"f5":-0.12,"f6":0.16,"f7":-0.14,"f8":-0.07},
{"d":"2015-12-31","s":7,"f1":-1.13,"f2":-0.87,"f3":-0.54,"f4":-0.10,"f5":-0.04,"f6":0.24,"f7":-0.05,"f8":0.02}
  ],
  "f": [
{"d":"2014-09-05","f1":-1.9,"f2":-1.2,"f3":-1.1,"f4":-1.6,"f5":-0.9,"f6":-1.3,"f7":-0.7,"f8":-0.6},
{"d":"2014-09-08","f1":-1.4,"f2":-0.9,"f3":-1.3,"f4":-1.2,"f5":-1.1,"f6":-0.6,"f7":-0.2,"f8":-0.4},
{"d":"2014-09-12","f1":-1.6,"f2":-1.3,"f3":-0.8,"f4":-1.0,"f5":-0.6,"f6":-1.0,"f7":0.3,"f8":-0.1},
{"d":"2014-09-15","f1":-1.2,"f2":-1.0,"f3":-1.2,"f4":-0.8,"f5":-0.9,"f6":-0.7,"f7":-1.0,"f8":0.2},
{"d":"2014-09-18","f1":-1.5,"f2":-1.4,"f3":-0.9,"f4":-1.1,"f5":-0.5,"f6":-0.9,"f7":0.8,"f8":-0.3},
{"d":"2014-09-22","f1":-1.3,"f2":-1.1,"f3":-1.1,"f4":-0.9,"f5":-0.8,"f6":-0.5,"f7":-0.5,"f8":0.4},
{"d":"2014-09-25","f1":-1.7,"f2":-0.8,"f3":-0.7,"f4":-1.2,"f5":-0.7,"f6":-1.1,"f7":0.1,"f8":-0.2},
{"d":"2014-09-29","f1":-1.1,"f2":-1.2,"f3":-1.0,"f4":-0.7,"f5":-0.6,"f6":-0.8,"f7":-0.8,"f8":0.5},
{"d":"2014-10-02","f1":-1.4,"f2":-1.0,"f3":-1.3,"f4":-1.0,"f5":-0.9,"f6":-0.6,"f7":0.9,"f8":0.1},
{"d":"2014-10-06","f1":-1.6,"f2":-1.3,"f3":-0.9,"f4":-0.8,"f5":-0.5,"f6":-0.9,"f7":-0.4,"f8":0.6},
{"d":"2014-10-09","f1":-1.3,"f2":-0.9,"f3":-1.2,"f4":-1.1,"f5":-0.8,"f6":-0.7,"f7":0.2,"f8":0.0},
{"d":"2014-10-13","f1":-1.2,"f2":-1.1,"f3":-1.0,"f4":-0.9,"f5":-0.6,"f6":-1.2,"f7":-0.6,"f8":0.7},
{"d":"2014-10-16","f1":-1.5,"f2":-1.2,"f3":-0.8,"f4":-1.2,"f5":-0.4,"f6":-0.5,"f7":0.5,"f8":0.3},
{"d":"2014-10-20","f1":-1.1,"f2":-1.0,"f3":-1.1,"f4":-0.9,"f5":-0.7,"f6":-0.8,"f7":-0.2,"f8":0.8},
{"d":"2014-09-06","f1":-1.5,"f2":-1.1,"f3":-1.2,"f4":-1.0,"f5":-0.8,"f6":-0.9,"f7":-0.4,"f8":-0.2},
{"d":"2014-09-10","f1":-1.3,"f2":-1.2,"f3":-0.9,"f4":-0.9,"f5":-0.7,"f6":-0.7,"f7":-0.6,"f8":0.1},
{"d":"2014-09-13","f1":-1.6,"f2":-1.0,"f3":-1.0,"f4":-1.1,"f5":-0.6,"f6":-0.8,"f7":0.0,"f8":-0.1},
{"d":"2014-09-17","f1":-1.4,"f2":-1.1,"f3":-1.1,"f4":-0.8,"f5":-0.8,"f6":-0.6,"f7":-0.7,"f8":0.3},
{"d":"2014-09-20","f1":-1.2,"f2":-1.3,"f3":-0.9,"f4":-1.0,"f5":-0.6,"f6":-0.9,"f7":-0.3,"f8":0.0},
{"d":"2014-09-24","f1":-1.5,"f2":-1.0,"f3":-1.0,"f4":-0.9,"f5":-0.7,"f6":-0.7,"f7":0.4,"f8":0.2},
{"d":"2014-09-27","f1":-1.3,"f2":-1.2,"f3":-1.2,"f4":-1.1,"f5":-0.5,"f6":-0.8,"f7":-0.5,"f8":0.4},
{"d":"2014-10-01","f1":-1.6,"f2":-1.1,"f3":-0.9,"f4":-0.8,"f5":-0.7,"f6":-0.6,"f7":0.0,"f8":0.1},
{"d":"2014-10-04","f1":-1.4,"f2":-0.9,"f3":-1.1,"f4":-1.0,"f5":-0.6,"f6":-0.9,"f7":-0.3,"f8":0.5},
{"d":"2014-10-08","f1":-1.2,"f2":-1.2,"f3":-1.0,"f4":-0.9,"f5":-0.8,"f6":-0.7,"f7":0.6,"f8":0.2},
{"d":"2014-10-11","f1":-1.5,"f2":-1.0,"f3":-0.9,"f4":-1.1,"f5":-0.5,"f6":-0.8,"f7":-0.2,"f8":0.4},
{"d":"2014-10-14","f1":-1.3,"f2":-1.1,"f3":-1.2,"f4":-0.8,"f5":-0.7,"f6":-0.6,"f7":0.3,"f8":0.6},
{"d":"2014-10-18","f1":-1.4,"f2":-1.3,"f3":-1.0,"f4":-1.0,"f5":-0.6,"f6":-0.9,"f7":-0.4,"f8":0.2},
{"d":"2014-10-21","f1":-1.2,"f2":-1.0,"f3":-1.1,"f4":-0.9,"f5":-0.5,"f6":-0.7,"f7":0.5,"f8":0.9},
{"d":"2014-10-28","f1":-1.9,"f2":-1.8,"f3":-1.3,"f4":-1.2,"f5":-0.8,"f6":-1.7,"f7":-0.9,"f8":-0.6},
{"d":"2014-10-31","f1":-1.7,"f2":-2.0,"f3":-1.1,"f4":-1.0,"f5":-0.5,"f6":-2.1,"f7":-1.2,"f8":-0.3},
{"d":"2014-11-04","f1":-1.5,"f2":-1.6,"f3":-0.9,"f4":-1.1,"f5":-0.3,"f6":-1.5,"f7":-0.6,"f8":-0.5},
{"d":"2014-11-07","f1":-1.3,"f2":-1.4,"f3":-1.2,"f4":-0.8,"f5":-0.4,"f6":-1.0,"f7":-1.0,"f8":-0.2},
{"d":"2014-11-11","f1":-1.4,"f2":-1.2,"f3":-1.0,"f4":-0.9,"f5":-0.2,"f6":-0.6,"f7":-0.4,"f8":0.1},
{"d":"2014-11-14","f1":-1.6,"f2":-1.3,"f3":-0.8,"f4":-1.1,"f5":-0.5,"f6":-0.3,"f7":-0.8,"f8":-0.4},
{"d":"2014-11-18","f1":-1.2,"f2":-1.0,"f3":-1.1,"f4":-0.7,"f5":-0.1,"f6":-0.5,"f7":-1.1,"f8":-0.1},
{"d":"2014-11-21","f1":-1.5,"f2":-1.1,"f3":-0.9,"f4":-0.9,"f5":-0.3,"f6":-0.2,"f7":-0.5,"f8":-0.6},
{"d":"2014-11-25","f1":-1.3,"f2":-1.2,"f3":-1.2,"f4":-1.0,"f5":0.1,"f6":-0.4,"f7":-0.9,"f8":-0.3},
{"d":"2014-11-28","f1":-1.1,"f2":-0.9,"f3":-0.8,"f4":-0.8,"f5":-0.2,"f6":-0.1,"f7":-0.6,"f8":0.0},
{"d":"2014-12-02","f1":-1.4,"f2":-1.3,"f3":-1.0,"f4":-1.0,"f5":-0.4,"f6":-0.3,"f7":-1.2,"f8":-0.5},
{"d":"2014-12-05","f1":-1.2,"f2":-1.0,"f3":-0.9,"f4":-0.7,"f5":0.0,"f6":0.1,"f7":-0.7,"f8":-0.2},
{"d":"2014-12-09","f1":-1.5,"f2":-1.2,"f3":-1.1,"f4":-0.9,"f5":-0.3,"f6":-0.2,"f7":-1.0,"f8":-0.4},
{"d":"2014-12-12","f1":-1.0,"f2":-1.1,"f3":-0.9,"f4":-1.0,"f5":0.2,"f6":-0.1,"f7":-0.5,"f8":0.0},
{"d":"2014-12-16","f1":-1.3,"f2":-0.9,"f3":-1.0,"f4":-0.8,"f5":-0.1,"f6":0.0,"f7":-0.8,"f8":-0.3},
{"d":"2014-12-19","f1":-1.1,"f2":-1.2,"f3":-0.8,"f4":-0.9,"f5":0.1,"f6":-0.2,"f7":-1.1,"f8":-0.1},
{"d":"2014-12-23","f1":-1.4,"f2":-1.0,"f3":-1.1,"f4":-0.7,"f5":-0.2,"f6":0.0,"f7":-0.6,"f8":-0.4},
{"d":"2014-12-26","f1":-1.2,"f2":-0.8,"f3":-0.9,"f4":-1.0,"f5":0.0,"f6":-0.3,"f7":-0.9,"f8":0.1},
{"d":"2014-12-30","f1":-1.6,"f2":-1.1,"f3":-1.0,"f4":-0.8,"f5":-0.3,"f6":-0.1,"f7":-0.7,"f8":-0.2},
{"d":"2015-01-03","f1":-1.8,"f2":-1.3,"f3":-1.2,"f4":-1.1,"f5":-0.1,"f6":-0.4,"f7":-1.0,"f8":-0.3},
{"d":"2014-10-30","f1":-1.8,"f2":-1.9,"f3":-1.2,"f4":-1.1,"f5":-0.6,"f6":-1.9,"f7":-1.0,"f8":-0.5},
{"d":"2014-11-02","f1":-1.6,"f2":-1.7,"f3":-1.0,"f4":-1.0,"f5":-0.4,"f6":-1.6,"f7":-0.8,"f8":-0.4},
{"d":"2014-11-06","f1":-1.4,"f2":-1.5,"f3":-0.9,"f4":-0.9,"f5":-0.3,"f6":-1.2,"f7":-0.9,"f8":-0.3},
{"d":"2014-11-09","f1":-1.3,"f2":-1.3,"f3":-1.0,"f4":-0.8,"f5":-0.2,"f6":-0.7,"f7":-0.7,"f8":-0.2},
{"d":"2014-11-13","f1":-1.5,"f2":-1.2,"f3":-0.9,"f4":-0.9,"f5":-0.3,"f6":-0.4,"f7":-0.9,"f8":-0.4},
{"d":"2014-11-16","f1":-1.3,"f2":-1.1,"f3":-1.0,"f4":-0.8,"f5":-0.1,"f6":-0.3,"f7":-0.6,"f8":-0.2},
{"d":"2014-11-20","f1":-1.4,"f2":-1.2,"f3":-0.8,"f4":-0.9,"f5":-0.2,"f6":-0.2,"f7":-0.8,"f8":-0.3},
{"d":"2014-11-23","f1":-1.2,"f2":-1.1,"f3":-0.9,"f4":-0.7,"f5":0.0,"f6":-0.3,"f7":-0.7,"f8":-0.1},
{"d":"2014-11-27","f1":-1.3,"f2":-1.0,"f3":-1.0,"f4":-0.8,"f5":-0.1,"f6":-0.1,"f7":-0.9,"f8":-0.3},
{"d":"2014-11-30","f1":-1.2,"f2":-1.2,"f3":-0.9,"f4":-0.9,"f5":-0.2,"f6":-0.2,"f7":-0.8,"f8":-0.2},
{"d":"2014-12-04","f1":-1.4,"f2":-1.1,"f3":-0.8,"f4":-0.8,"f5":0.0,"f6":0.0,"f7":-0.7,"f8":-0.3},
{"d":"2014-12-07","f1":-1.1,"f2":-1.0,"f3":-0.9,"f4":-0.9,"f5":-0.1,"f6":-0.1,"f7":-0.9,"f8":-0.2},
{"d":"2014-12-11","f1":-1.3,"f2":-1.2,"f3":-1.0,"f4":-0.7,"f5":0.1,"f6":-0.2,"f7":-0.6,"f8":-0.1},
{"d":"2014-12-14","f1":-1.2,"f2":-1.1,"f3":-0.8,"f4":-0.8,"f5":-0.1,"f6":0.1,"f7":-0.8,"f8":-0.3},
{"d":"2014-12-18","f1":-1.4,"f2":-1.0,"f3":-0.9,"f4":-0.9,"f5":0.0,"f6":-0.1,"f7":-0.7,"f8":-0.2},
{"d":"2014-12-21","f1":-1.2,"f2":-1.1,"f3":-1.0,"f4":-0.8,"f5":0.2,"f6":0.0,"f7":-0.9,"f8":-0.1},
{"d":"2014-12-25","f1":-1.3,"f2":-0.9,"f3":-0.9,"f4":-0.7,"f5":-0.1,"f6":-0.2,"f7":-0.8,"f8":-0.2},
{"d":"2014-12-28","f1":-1.5,"f2":-1.2,"f3":-0.8,"f4":-0.9,"f5":0.0,"f6":0.0,"f7":-0.7,"f8":-0.3},
{"d":"2015-01-01","f1":-1.4,"f2":-1.0,"f3":-1.0,"f4":-0.8,"f5":-0.2,"f6":-0.1,"f7":-0.9,"f8":-0.2},
{"d":"2015-01-04","f1":-1.7,"f2":-1.2,"f3":-1.1,"f4":-1.0,"f5":-0.1,"f6":-0.3,"f7":-0.8,"f8":-0.4},
{"d":"2015-01-12","f1":-2.1,"f2":-1.8,"f3":-1.5,"f4":-1.3,"f5":-0.9,"f6":-0.4,"f7":-1.6,"f8":-1.0},
{"d":"2015-01-13","f1":-2.0,"f2":-1.7,"f3":-1.6,"f4":-1.4,"f5":-1.0,"f6":-0.6,"f7":-1.5,"f8":-1.1},
{"d":"2015-01-15","f1":-1.9,"f2":-1.6,"f3":-1.7,"f4":-1.2,"f5":-1.1,"f6":-0.8,"f7":-1.3,"f8":-1.2},
{"d":"2015-01-27","f1":-1.8,"f2":-1.5,"f3":-1.7,"f4":-1.5,"f5":-1.0,"f6":-0.9,"f7":-1.8,"f8":-1.2},
{"d":"2015-01-31","f1":-1.6,"f2":-1.2,"f3":-1.9,"f4":-1.3,"f5":-0.7,"f6":-0.6,"f7":-1.5,"f8":-0.9},
{"d":"2015-02-04","f1":-1.3,"f2":-1.1,"f3":-1.5,"f4":-1.2,"f5":-0.5,"f6":-0.8,"f7":-1.2,"f8":-0.7},
{"d":"2015-02-08","f1":-1.0,"f2":-1.3,"f3":-1.7,"f4":-1.0,"f5":-0.4,"f6":-0.5,"f7":-1.4,"f8":-0.5},
{"d":"2015-02-12","f1":-1.2,"f2":-0.9,"f3":-1.6,"f4":-1.3,"f5":-0.6,"f6":-0.7,"f7":-1.0,"f8":-0.8},
{"d":"2015-02-16","f1":-0.8,"f2":-1.0,"f3":-1.8,"f4":-1.1,"f5":-0.3,"f6":-0.6,"f7":-1.3,"f8":-0.6},
{"d":"2015-02-20","f1":-1.1,"f2":-1.2,"f3":-1.5,"f4":-1.2,"f5":-0.5,"f6":-0.4,"f7":-1.1,"f8":-0.4},
{"d":"2015-02-24","f1":-0.9,"f2":-0.8,"f3":-1.7,"f4":-1.0,"f5":-0.4,"f6":-0.7,"f7":-1.5,"f8":-0.7},
{"d":"2015-02-28","f1":-0.7,"f2":-1.1,"f3":-1.6,"f4":-1.3,"f5":-0.2,"f6":-0.5,"f7":-0.9,"f8":-0.5},
{"d":"2015-03-04","f1":-1.0,"f2":-0.9,"f3":-1.9,"f4":-1.2,"f5":-0.5,"f6":-0.6,"f7":-1.2,"f8":-0.8},
{"d":"2015-03-08","f1":-0.8,"f2":-1.0,"f3":-1.5,"f4":-1.1,"f5":-0.3,"f6":-0.4,"f7":-1.4,"f8":-0.6},
{"d":"2015-03-12","f1":-1.1,"f2":-1.2,"f3":-1.8,"f4":-1.0,"f5":-0.6,"f6":-0.7,"f7":-1.0,"f8":-0.4},
{"d":"2015-03-16","f1":-0.9,"f2":-0.9,"f3":-1.4,"f4":-1.3,"f5":-0.4,"f6":-0.5,"f7":-1.3,"f8":-0.7},
{"d":"2015-03-20","f1":-0.7,"f2":-1.1,"f3":-1.7,"f4":-1.2,"f5":-0.1,"f6":-0.6,"f7":-1.1,"f8":-0.5},
{"d":"2015-03-24","f1":-1.0,"f2":-0.8,"f3":-1.9,"f4":-1.1,"f5":-0.3,"f6":-0.4,"f7":-1.5,"f8":-0.6},
{"d":"2015-03-28","f1":-0.8,"f2":-1.0,"f3":-1.6,"f4":-1.2,"f5":-0.2,"f6":-0.7,"f7":-1.0,"f8":-0.4},
{"d":"2015-04-01","f1":-0.6,"f2":-1.2,"f3":-1.5,"f4":-1.0,"f5":-0.4,"f6":-0.5,"f7":-1.2,"f8":-0.7},
{"d":"2015-04-05","f1":-0.9,"f2":-0.9,"f3":-1.8,"f4":-1.3,"f5":-0.3,"f6":-0.6,"f7":-1.4,"f8":-0.5},
{"d":"2015-04-09","f1":-0.7,"f2":-1.0,"f3":-1.4,"f4":-1.1,"f5":-0.2,"f6":-0.4,"f7":-1.1,"f8":-0.6},
{"d":"2015-04-13","f1":-1.0,"f2":-1.1,"f3":-1.6,"f4":-1.2,"f5":-0.5,"f6":-0.6,"f7":-1.3,"f8":-0.4},
{"d":"2015-04-17","f1":-0.5,"f2":-0.9,"f3":-1.5,"f4":-1.0,"f5":-0.3,"f6":-0.5,"f7":-1.0,"f8":-0.7},
{"d":"2015-01-29","f1":-1.7,"f2":-1.3,"f3":-1.8,"f4":-1.4,"f5":-0.8,"f6":-0.8,"f7":-1.6,"f8":-1.0},
{"d":"2015-02-02","f1":-1.4,"f2":-1.2,"f3":-1.7,"f4":-1.2,"f5":-0.6,"f6":-0.7,"f7":-1.4,"f8":-0.8},
{"d":"2015-02-06","f1":-1.1,"f2":-1.1,"f3":-1.6,"f4":-1.1,"f5":-0.5,"f6":-0.6,"f7":-1.2,"f8":-0.7},
{"d":"2015-02-10","f1":-1.0,"f2":-1.0,"f3":-1.7,"f4":-1.2,"f5":-0.4,"f6":-0.6,"f7":-1.1,"f8":-0.6},
{"d":"2015-02-14","f1":-0.9,"f2":-1.1,"f3":-1.5,"f4":-1.1,"f5":-0.4,"f6":-0.5,"f7":-1.2,"f8":-0.6},
{"d":"2015-02-18","f1":-1.0,"f2":-0.9,"f3":-1.6,"f4":-1.0,"f5":-0.5,"f6":-0.6,"f7":-1.1,"f8":-0.5},
{"d":"2015-02-22","f1":-0.8,"f2":-1.0,"f3":-1.7,"f4":-1.1,"f5":-0.3,"f6":-0.5,"f7":-1.2,"f8":-0.6},
{"d":"2015-02-26","f1":-0.9,"f2":-1.1,"f3":-1.5,"f4":-1.2,"f5":-0.4,"f6":-0.6,"f7":-1.0,"f8":-0.5},
{"d":"2015-03-02","f1":-0.8,"f2":-1.0,"f3":-1.6,"f4":-1.1,"f5":-0.4,"f6":-0.5,"f7":-1.2,"f8":-0.7},
{"d":"2015-03-06","f1":-0.9,"f2":-0.9,"f3":-1.7,"f4":-1.0,"f5":-0.3,"f6":-0.6,"f7":-1.1,"f8":-0.6},
{"d":"2015-03-10","f1":-1.0,"f2":-1.0,"f3":-1.6,"f4":-1.1,"f5":-0.4,"f6":-0.5,"f7":-1.3,"f8":-0.5},
{"d":"2015-03-14","f1":-0.8,"f2":-1.1,"f3":-1.5,"f4":-1.2,"f5":-0.5,"f6":-0.6,"f7":-1.1,"f8":-0.6},
{"d":"2015-03-18","f1":-0.9,"f2":-1.0,"f3":-1.7,"f4":-1.1,"f5":-0.3,"f6":-0.5,"f7":-1.2,"f8":-0.6},
{"d":"2015-03-22","f1":-0.8,"f2":-0.9,"f3":-1.6,"f4":-1.0,"f5":-0.4,"f6":-0.6,"f7":-1.0,"f8":-0.5},
{"d":"2015-03-26","f1":-0.9,"f2":-1.1,"f3":-1.5,"f4":-1.1,"f5":-0.3,"f6":-0.5,"f7":-1.2,"f8":-0.7},
{"d":"2015-03-30","f1":-0.7,"f2":-1.0,"f3":-1.7,"f4":-1.2,"f5":-0.4,"f6":-0.6,"f7":-1.1,"f8":-0.6},
{"d":"2015-04-03","f1":-0.9,"f2":-0.9,"f3":-1.6,"f4":-1.1,"f5":-0.3,"f6":-0.5,"f7":-1.3,"f8":-0.6},
{"d":"2015-04-07","f1":-0.8,"f2":-1.0,"f3":-1.5,"f4":-1.0,"f5":-0.4,"f6":-0.6,"f7":-1.1,"f8":-0.5},
{"d":"2015-04-11","f1":-0.7,"f2":-1.1,"f3":-1.7,"f4":-1.1,"f5":-0.2,"f6":-0.5,"f7":-1.2,"f8":-0.6},
{"d":"2015-04-15","f1":-0.9,"f2":-1.0,"f3":-1.6,"f4":-1.2,"f5":-0.4,"f6":-0.6,"f7":-1.0,"f8":-0.7},
{"d":"2015-04-19","f1":-0.8,"f2":-0.9,"f3":-1.5,"f4":-1.1,"f5":-0.3,"f6":-0.5,"f7":-1.2,"f8":-0.6},
{"d":"2015-05-13","f1":-1.2,"f2":-1.3,"f3":-1.8,"f4":-1.6,"f5":-0.6,"f6":-1.0,"f7":-2.0,"f8":-1.2},
{"d":"2015-05-17","f1":-1.0,"f2":-1.5,"f3":-1.9,"f4":-1.4,"f5":-0.7,"f6":-0.9,"f7":-1.8,"f8":-1.0},
{"d":"2015-05-21","f1":-1.3,"f2":-1.2,"f3":-1.7,"f4":-1.5,"f5":-0.4,"f6":-1.1,"f7":-1.6,"f8":-1.3},
{"d":"2015-05-25","f1":-0.9,"f2":-1.1,"f3":-1.8,"f4":-1.3,"f5":-0.5,"f6":-0.8,"f7":-1.9,"f8":-0.9},
{"d":"2015-05-29","f1":-1.1,"f2":-1.4,"f3":-1.6,"f4":-1.4,"f5":-0.3,"f6":-0.7,"f7":-1.5,"f8":-1.1},
{"d":"2015-06-02","f1":-0.8,"f2":-1.0,"f3":-1.7,"f4":-1.2,"f5":-0.6,"f6":-0.9,"f7":-1.7,"f8":-0.8},
{"d":"2015-06-06","f1":-1.2,"f2":-1.2,"f3":-1.5,"f4":-1.5,"f5":-0.4,"f6":-0.6,"f7":-1.4,"f8":-1.0},
{"d":"2015-06-10","f1":-0.7,"f2":-0.9,"f3":-1.8,"f4":-1.3,"f5":-0.3,"f6":-0.8,"f7":-1.6,"f8":-0.7},
{"d":"2015-06-14","f1":-1.0,"f2":-1.1,"f3":-1.6,"f4":-1.1,"f5":-0.5,"f6":-0.5,"f7":-1.3,"f8":-0.9},
{"d":"2015-06-18","f1":-0.8,"f2":-1.0,"f3":-1.7,"f4":-1.4,"f5":-0.2,"f6":-0.7,"f7":-1.5,"f8":-0.6},
{"d":"2015-06-22","f1":-1.1,"f2":-1.2,"f3":-1.5,"f4":-1.2,"f5":-0.4,"f6":-0.4,"f7":-1.2,"f8":-1.0},
{"d":"2015-06-26","f1":-0.6,"f2":-0.8,"f3":-1.9,"f4":-1.3,"f5":-0.3,"f6":-0.6,"f7":-1.4,"f8":-0.8},
{"d":"2015-06-30","f1":-0.9,"f2":-1.1,"f3":-1.6,"f4":-1.1,"f5":-0.1,"f6":-0.5,"f7":-1.6,"f8":-0.7},
{"d":"2015-07-04","f1":-0.7,"f2":-0.9,"f3":-1.4,"f4":-1.4,"f5":-0.4,"f6":-0.3,"f7":-1.3,"f8":-0.9},
{"d":"2015-07-08","f1":-1.0,"f2":-1.2,"f3":-1.7,"f4":-1.2,"f5":-0.2,"f6":-0.6,"f7":-1.1,"f8":-0.6},
{"d":"2015-07-12","f1":-0.8,"f2":-1.0,"f3":-1.5,"f4":-1.3,"f5":-0.3,"f6":-0.4,"f7":-1.5,"f8":-1.0},
{"d":"2015-07-16","f1":-0.6,"f2":-0.9,"f3":-1.8,"f4":-1.1,"f5":-0.2,"f6":-0.5,"f7":-1.2,"f8":-0.8},
{"d":"2015-07-20","f1":-0.9,"f2":-1.1,"f3":-1.6,"f4":-1.4,"f5":0.0,"f6":-0.3,"f7":-1.4,"f8":-0.7},
{"d":"2015-07-24","f1":-0.7,"f2":-1.0,"f3":-1.4,"f4":-1.2,"f5":-0.3,"f6":-0.6,"f7":-1.0,"f8":-0.9},
{"d":"2015-07-28","f1":-1.0,"f2":-0.8,"f3":-1.7,"f4":-1.3,"f5":-0.1,"f6":-0.4,"f7":-1.3,"f8":-0.6},
{"d":"2015-08-01","f1":-0.8,"f2":-1.1,"f3":-1.5,"f4":-1.1,"f5":-0.4,"f6":-0.5,"f7":-1.5,"f8":-0.8},
{"d":"2015-08-05","f1":-0.6,"f2":-0.9,"f3":-1.9,"f4":-1.4,"f5":-0.2,"f6":-0.3,"f7":-1.1,"f8":-1.0},
{"d":"2015-08-09","f1":-0.9,"f2":-1.0,"f3":-1.6,"f4":-1.2,"f5":-0.3,"f6":-0.6,"f7":-1.4,"f8":-0.7},
{"d":"2015-08-13","f1":-0.7,"f2":-1.2,"f3":-1.4,"f4":-1.3,"f5":-0.1,"f6":-0.4,"f7":-1.2,"f8":-0.9},
{"d":"2015-08-17","f1":-1.0,"f2":-0.9,"f3":-1.7,"f4":-1.1,"f5":-0.3,"f6":-0.5,"f7":-1.6,"f8":-0.6},
{"d":"2015-08-21","f1":-0.8,"f2":-1.0,"f3":-1.5,"f4":-1.4,"f5":-0.2,"f6":-0.3,"f7":-1.3,"f8":-0.8},
{"d":"2015-08-25","f1":-0.6,"f2":-1.1,"f3":-1.8,"f4":-1.2,"f5":0.0,"f6":-0.6,"f7":-1.1,"f8":-0.7},
{"d":"2015-08-29","f1":-0.9,"f2":-0.9,"f3":-1.6,"f4":-1.3,"f5":-0.3,"f6":-0.4,"f7":-1.4,"f8":-1.0},
{"d":"2015-09-02","f1":-0.7,"f2":-1.0,"f3":-1.4,"f4":-1.1,"f5":-0.2,"f6":-0.5,"f7":-1.2,"f8":-0.6},
{"d":"2015-09-06","f1":-1.0,"f2":-1.2,"f3":-1.7,"f4":-1.4,"f5":-0.1,"f6":-0.3,"f7":-1.5,"f8":-0.8},
{"d":"2015-09-10","f1":-0.8,"f2":-0.9,"f3":-1.5,"f4":-1.2,"f5":-0.3,"f6":-0.6,"f7":-1.3,"f8":-0.9},
{"d":"2015-09-14","f1":-0.6,"f2":-1.1,"f3":-1.9,"f4":-1.3,"f5":-0.2,"f6":-0.4,"f7":-1.0,"f8":-0.7},
{"d":"2015-09-18","f1":-0.9,"f2":-1.0,"f3":-1.6,"f4":-1.1,"f5":-0.4,"f6":-0.5,"f7":-1.4,"f8":-0.5},
{"d":"2015-09-22","f1":-0.7,"f2":-0.8,"f3":-1.4,"f4":-1.4,"f5":-0.2,"f6":-0.3,"f7":-1.2,"f8":-0.8},
{"d":"2015-09-26","f1":-0.8,"f2":-1.1,"f3":-1.7,"f4":-1.2,"f5":-0.3,"f6":-0.5,"f7":-1.5,"f8":-0.6},
{"d":"2015-05-15","f1":-1.1,"f2":-1.4,"f3":-1.9,"f4":-1.5,"f5":-0.6,"f6":-1.0,"f7":-1.9,"f8":-1.1},
{"d":"2015-05-19","f1":-1.2,"f2":-1.3,"f3":-1.8,"f4":-1.4,"f5":-0.5,"f6":-0.9,"f7":-1.7,"f8":-1.1},
{"d":"2015-05-23","f1":-1.0,"f2":-1.2,"f3":-1.7,"f4":-1.4,"f5":-0.5,"f6":-0.8,"f7":-1.7,"f8":-1.0},
{"d":"2015-05-27","f1":-1.0,"f2":-1.2,"f3":-1.7,"f4":-1.3,"f5":-0.4,"f6":-0.8,"f7":-1.6,"f8":-1.0},
{"d":"2015-05-31","f1":-0.9,"f2":-1.1,"f3":-1.6,"f4":-1.3,"f5":-0.4,"f6":-0.7,"f7":-1.5,"f8":-0.9},
{"d":"2015-06-04","f1":-0.9,"f2":-1.1,"f3":-1.7,"f4":-1.3,"f5":-0.4,"f6":-0.7,"f7":-1.5,"f8":-0.9},
{"d":"2015-06-08","f1":-0.8,"f2":-1.0,"f3":-1.6,"f4":-1.2,"f5":-0.3,"f6":-0.6,"f7":-1.4,"f8":-0.8},
{"d":"2015-06-12","f1":-0.9,"f2":-1.0,"f3":-1.6,"f4":-1.3,"f5":-0.3,"f6":-0.6,"f7":-1.4,"f8":-0.8},
{"d":"2015-06-16","f1":-0.8,"f2":-1.1,"f3":-1.5,"f4":-1.2,"f5":-0.4,"f6":-0.5,"f7":-1.3,"f8":-0.9},
{"d":"2015-06-20","f1":-0.9,"f2":-1.0,"f3":-1.7,"f4":-1.3,"f5":-0.3,"f6":-0.6,"f7":-1.4,"f8":-0.8},
{"d":"2015-06-24","f1":-0.8,"f2":-0.9,"f3":-1.6,"f4":-1.2,"f5":-0.2,"f6":-0.5,"f7":-1.3,"f8":-0.8},
{"d":"2015-06-28","f1":-0.7,"f2":-1.0,"f3":-1.5,"f4":-1.3,"f5":-0.3,"f6":-0.5,"f7":-1.4,"f8":-0.7},
{"d":"2015-07-02","f1":-0.8,"f2":-1.1,"f3":-1.6,"f4":-1.2,"f5":-0.3,"f6":-0.4,"f7":-1.3,"f8":-0.8},
{"d":"2015-07-06","f1":-0.9,"f2":-1.0,"f3":-1.7,"f4":-1.3,"f5":-0.2,"f6":-0.5,"f7":-1.2,"f8":-0.8},
{"d":"2015-07-10","f1":-0.8,"f2":-0.9,"f3":-1.5,"f4":-1.2,"f5":-0.3,"f6":-0.5,"f7":-1.4,"f8":-0.7},
{"d":"2015-07-14","f1":-0.7,"f2":-1.0,"f3":-1.6,"f4":-1.3,"f5":-0.2,"f6":-0.4,"f7":-1.3,"f8":-0.8},
{"d":"2015-07-18","f1":-0.8,"f2":-1.1,"f3":-1.6,"f4":-1.2,"f5":-0.3,"f6":-0.5,"f7":-1.2,"f8":-0.8},
{"d":"2015-07-22","f1":-0.9,"f2":-1.0,"f3":-1.5,"f4":-1.3,"f5":-0.2,"f6":-0.4,"f7":-1.3,"f8":-0.7},
{"d":"2015-07-26","f1":-0.8,"f2":-0.9,"f3":-1.7,"f4":-1.2,"f5":-0.3,"f6":-0.5,"f7":-1.4,"f8":-0.8},
{"d":"2015-07-30","f1":-0.7,"f2":-1.0,"f3":-1.6,"f4":-1.3,"f5":-0.2,"f6":-0.4,"f7":-1.3,"f8":-0.8},
{"d":"2015-08-03","f1":-0.8,"f2":-1.1,"f3":-1.5,"f4":-1.2,"f5":-0.3,"f6":-0.5,"f7":-1.2,"f8":-0.7},
{"d":"2015-08-07","f1":-0.9,"f2":-1.0,"f3":-1.6,"f4":-1.3,"f5":-0.2,"f6":-0.4,"f7":-1.3,"f8":-0.8},
{"d":"2015-08-11","f1":-0.8,"f2":-0.9,"f3":-1.7,"f4":-1.2,"f5":-0.3,"f6":-0.5,"f7":-1.4,"f8":-0.8},
{"d":"2015-08-15","f1":-0.7,"f2":-1.0,"f3":-1.6,"f4":-1.3,"f5":-0.2,"f6":-0.4,"f7":-1.2,"f8":-0.7},
{"d":"2015-08-19","f1":-0.8,"f2":-1.1,"f3":-1.5,"f4":-1.2,"f5":-0.3,"f6":-0.5,"f7":-1.3,"f8":-0.8},
{"d":"2015-08-23","f1":-0.9,"f2":-1.0,"f3":-1.6,"f4":-1.3,"f5":-0.2,"f6":-0.4,"f7":-1.4,"f8":-0.8},
{"d":"2015-08-27","f1":-0.8,"f2":-0.9,"f3":-1.7,"f4":-1.2,"f5":-0.3,"f6":-0.5,"f7":-1.3,"f8":-0.7},
{"d":"2015-08-31","f1":-0.7,"f2":-1.0,"f3":-1.5,"f4":-1.3,"f5":-0.2,"f6":-0.4,"f7":-1.2,"f8":-0.8},
{"d":"2015-09-04","f1":-0.8,"f2":-1.1,"f3":-1.6,"f4":-1.2,"f5":-0.3,"f6":-0.5,"f7":-1.3,"f8":-0.8},
{"d":"2015-09-08","f1":-0.9,"f2":-1.0,"f3":-1.6,"f4":-1.3,"f5":-0.2,"f6":-0.4,"f7":-1.4,"f8":-0.7},
{"d":"2015-09-12","f1":-0.8,"f2":-0.9,"f3":-1.5,"f4":-1.2,"f5":-0.3,"f6":-0.5,"f7":-1.3,"f8":-0.8},
{"d":"2015-09-16","f1":-0.7,"f2":-1.0,"f3":-1.7,"f4":-1.3,"f5":-0.2,"f6":-0.4,"f7":-1.2,"f8":-0.8},
{"d":"2015-09-20","f1":-0.8,"f2":-1.1,"f3":-1.6,"f4":-1.2,"f5":-0.3,"f6":-0.5,"f7":-1.3,"f8":-0.7},
{"d":"2015-09-24","f1":-0.9,"f2":-1.0,"f3":-1.5,"f4":-1.3,"f5":-0.2,"f6":-0.4,"f7":-1.4,"f8":-0.8},
{"d":"2015-10-09","f1":-1.7,"f2":-1.8,"f3":-2.1,"f4":-1.7,"f5":-0.7,"f6":-1.1,"f7":-1.5,"f8":-1.0},
{"d":"2015-10-11","f1":-1.6,"f2":-1.8,"f3":-2.2,"f4":-1.7,"f5":-0.7,"f6":-1.2,"f7":-1.6,"f8":-1.1},
{"d":"2015-10-13","f1":-1.5,"f2":-1.6,"f3":-1.9,"f4":-1.5,"f5":-0.6,"f6":-1.3,"f7":-1.7,"f8":-1.2},
{"d":"2015-10-15","f1":-1.7,"f2":-1.7,"f3":-2.0,"f4":-1.6,"f5":-0.8,"f6":-1.1,"f7":-1.7,"f8":-1.0},
{"d":"2015-10-17","f1":-1.8,"f2":-1.7,"f3":-2.2,"f4":-1.6,"f5":-0.8,"f6":-1.2,"f7":-1.4,"f8":-0.9},
{"d":"2015-10-19","f1":-1.5,"f2":-1.9,"f3":-2.1,"f4":-1.7,"f5":-0.6,"f6":-1.2,"f7":-1.5,"f8":-1.2},
{"d":"2015-10-21","f1":-1.6,"f2":-1.9,"f3":-2.0,"f4":-1.8,"f5":-0.7,"f6":-1.0,"f7":-1.8,"f8":-1.3},
{"d":"2015-10-23","f1":-1.6,"f2":-1.8,"f3":-2.2,"f4":-1.8,"f5":-0.8,"f6":-1.1,"f7":-1.6,"f8":-1.1},
{"d":"2015-10-24","f1":-1.4,"f2":-1.7,"f3":-2.1,"f4":-1.6,"f5":-0.9,"f6":-1.2,"f7":-1.6,"f8":-1.1},
{"d":"2015-11-01","f1":-1.6,"f2":-1.4,"f3":-1.7,"f4":-1.5,"f5":-0.6,"f6":-0.9,"f7":-1.5,"f8":-1.0},
{"d":"2015-11-05","f1":-1.4,"f2":-1.2,"f3":-1.5,"f4":-1.4,"f5":-0.4,"f6":-1.1,"f7":-1.3,"f8":-0.7},
{"d":"2015-11-09","f1":-1.7,"f2":-1.5,"f3":-1.8,"f4":-1.3,"f5":-0.5,"f6":-0.8,"f7":-1.6,"f8":-0.9},
{"d":"2015-11-13","f1":-1.3,"f2":-1.3,"f3":-1.6,"f4":-1.6,"f5":-0.3,"f6":-1.0,"f7":-1.2,"f8":-0.6},
{"d":"2015-11-17","f1":-1.5,"f2":-1.1,"f3":-1.4,"f4":-1.4,"f5":-0.6,"f6":-0.7,"f7":-1.4,"f8":-0.8},
{"d":"2015-11-21","f1":-1.6,"f2":-1.4,"f3":-1.7,"f4":-1.2,"f5":-0.4,"f6":-0.9,"f7":-1.7,"f8":-0.7},
{"d":"2015-11-25","f1":-1.4,"f2":-1.2,"f3":-1.5,"f4":-1.5,"f5":-0.5,"f6":-0.8,"f7":-1.3,"f8":-0.9},
{"d":"2015-11-29","f1":-1.7,"f2":-1.3,"f3":-1.8,"f4":-1.3,"f5":-0.3,"f6":-1.0,"f7":-1.5,"f8":-0.6},
{"d":"2015-12-03","f1":-1.5,"f2":-1.5,"f3":-1.6,"f4":-1.4,"f5":-0.5,"f6":-0.7,"f7":-1.2,"f8":-0.8},
{"d":"2015-12-07","f1":-1.8,"f2":-1.2,"f3":-1.4,"f4":-1.6,"f5":-0.4,"f6":-0.9,"f7":-1.6,"f8":-0.7},
{"d":"2015-12-11","f1":-1.6,"f2":-1.4,"f3":-1.7,"f4":-1.3,"f5":-0.2,"f6":-0.8,"f7":-1.4,"f8":-0.5},
{"d":"2015-12-15","f1":-1.9,"f2":-1.3,"f3":-1.5,"f4":-1.5,"f5":-0.4,"f6":-0.6,"f7":-1.3,"f8":-0.8},
{"d":"2015-12-19","f1":-1.7,"f2":-1.5,"f3":-1.8,"f4":-1.4,"f5":-0.3,"f6":-0.9,"f7":-1.5,"f8":-0.6},
{"d":"2015-12-23","f1":-2.0,"f2":-1.2,"f3":-1.6,"f4":-1.6,"f5":-0.5,"f6":-0.7,"f7":-1.2,"f8":-0.7},
{"d":"2015-12-27","f1":-1.8,"f2":-1.4,"f3":-1.5,"f4":-1.3,"f5":-0.2,"f6":-0.8,"f7":-1.4,"f8":-0.4},
{"d":"2015-12-31","f1":-1.9,"f2":-1.3,"f3":-1.7,"f4":-1.5,"f5":-0.4,"f6":-0.6,"f7":-1.6,"f8":-0.6},
{"d":"2015-11-03","f1":-1.6,"f2":-1.4,"f3":-1.7,"f4":-1.5,"f5":-0.5,"f6":-1.0,"f7":-1.5,"f8":-0.9},
{"d":"2015-11-07","f1":-1.5,"f2":-1.3,"f3":-1.6,"f4":-1.4,"f5":-0.4,"f6":-0.9,"f7":-1.4,"f8":-0.8},
{"d":"2015-11-11","f1":-1.6,"f2":-1.3,"f3":-1.7,"f4":-1.5,"f5":-0.5,"f6":-0.9,"f7":-1.5,"f8":-0.8},
{"d":"2015-11-15","f1":-1.5,"f2":-1.2,"f3":-1.6,"f4":-1.4,"f5":-0.4,"f6":-0.8,"f7":-1.4,"f8":-0.7},
{"d":"2015-11-19","f1":-1.6,"f2":-1.3,"f3":-1.5,"f4":-1.5,"f5":-0.5,"f6":-0.9,"f7":-1.5,"f8":-0.8},
{"d":"2015-11-23","f1":-1.7,"f2":-1.4,"f3":-1.6,"f4":-1.4,"f5":-0.4,"f6":-0.8,"f7":-1.3,"f8":-0.7},
{"d":"2015-11-27","f1":-1.6,"f2":-1.3,"f3":-1.7,"f4":-1.5,"f5":-0.4,"f6":-0.9,"f7":-1.4,"f8":-0.8},
{"d":"2015-12-01","f1":-1.7,"f2":-1.2,"f3":-1.6,"f4":-1.4,"f5":-0.5,"f6":-0.8,"f7":-1.5,"f8":-0.7},
{"d":"2015-12-05","f1":-1.6,"f2":-1.3,"f3":-1.5,"f4":-1.5,"f5":-0.3,"f6":-0.8,"f7":-1.4,"f8":-0.7},
{"d":"2015-12-09","f1":-1.7,"f2":-1.4,"f3":-1.6,"f4":-1.4,"f5":-0.4,"f6":-0.9,"f7":-1.3,"f8":-0.6},
{"d":"2015-12-13","f1":-1.8,"f2":-1.3,"f3":-1.7,"f4":-1.5,"f5":-0.3,"f6":-0.8,"f7":-1.4,"f8":-0.7},
{"d":"2015-12-17","f1":-1.7,"f2":-1.2,"f3":-1.6,"f4":-1.4,"f5":-0.4,"f6":-0.7,"f7":-1.5,"f8":-0.6},
{"d":"2015-12-21","f1":-1.8,"f2":-1.4,"f3":-1.5,"f4":-1.5,"f5":-0.3,"f6":-0.8,"f7":-1.3,"f8":-0.7},
{"d":"2015-12-25","f1":-1.9,"f2":-1.3,"f3":-1.6,"f4":-1.4,"f5":-0.4,"f6":-0.7,"f7":-1.4,"f8":-0.6},
{"d":"2015-12-29","f1":-1.8,"f2":-1.2,"f3":-1.7,"f4":-1.5,"f5":-0.3,"f6":-0.8,"f7":-1.5,"f8":-0.5}
  ]
},
"columns": 2,
"spacing": {"row": 29, "column": 58},
"bounds": "flush",
"concat": [
  {
    "width": 420, "height": 166,
    "layer": [
      {"data": {"name": "gaps"}, "mark": {"type": "rect", "color": "#e6e6e6"},
       "encoding": {
         "x": {"field": "o1", "type": "quantitative", "scale": {"domain": [950, 7985], "nice": false, "zero": false}, "axis": {"orient": "top", "values": [1000,2000,3000,4000,5000,6000,7000], "format": "d", "title": "Orbit number", "titlePadding": 8}},
         "x2": {"field": "o2"},
         "y": {"datum": -0.01}, "y2": {"datum": -0.0194}}},
      {"layer": [
        {"data": {"name": "a"}, "transform": [{"fold": ["f1","f2","f3","f4","f5","f6","f7","f8"], "as": ["fp","v"]}],
         "mark": {"type": "line", "strokeWidth": 3.5, "strokeJoin": "round"},
         "encoding": {
           "x": {"field": "d", "type": "temporal", "scale": {"type": "utc", "nice": false, "domain": [{"year":2014,"month":9,"date":5,"utc":true},{"year":2016,"month":1,"date":1,"utc":true}]}, "axis": null},
           "y": {"field": "v", "type": "quantitative", "scale": {"domain": [-0.02, -0.01], "nice": false, "zero": false}, "axis": {"orient": "left", "values": [-0.02, -0.015, -0.01], "format": "~g", "title": null}},
           "color": {"field": "fp", "type": "nominal", "scale": {"domain": ["f1","f2","f3","f4","f5","f6","f7","f8"], "range": ["#0000ff","#0080ff","#00ffff","#80ff80","#ffff00","#ff8000","#ff0000","#800000"]}, "legend": null},
           "detail": {"field": "s", "type": "nominal"}}},
        {"data": {"values": [{"t": "(a) O2A shift"}]}, "mark": {"type": "text", "font": "DejaVu Sans", "fontSize": 19, "color": "#000000", "baseline": "middle"},
         "encoding": {"x": {"datum": {"year":2015,"month":5,"date":6,"utc":true}, "type": "temporal", "axis": null}, "y": {"datum": -0.01108}, "text": {"field": "t"}}}
      ]}
    ],
    "resolve": {"scale": {"x": "independent"}, "axis": {"x": "independent"}}
  },
  {
    "width": 420, "height": 166,
    "layer": [
      {"data": {"name": "gaps"}, "mark": {"type": "rect", "color": "#e6e6e6"},
       "encoding": {
         "x": {"field": "o1", "type": "quantitative", "scale": {"domain": [950, 7985], "nice": false, "zero": false}, "axis": {"orient": "top", "values": [1000,2000,3000,4000,5000,6000,7000], "format": "d", "title": "Orbit number", "titlePadding": 8}},
         "x2": {"field": "o2"},
         "y": {"datum": 1}, "y2": {"datum": -2.12}}},
      {"layer": [
        {"data": {"name": "b"}, "transform": [{"fold": ["f1","f2","f3","f4","f5","f6","f7","f8"], "as": ["fp","v"]}],
         "mark": {"type": "line", "strokeWidth": 4.5, "strokeJoin": "round"},
         "encoding": {
           "x": {"field": "d", "type": "temporal", "scale": {"type": "utc", "nice": false, "domain": [{"year":2014,"month":9,"date":5,"utc":true},{"year":2016,"month":1,"date":1,"utc":true}]}, "axis": null},
           "y": {"field": "v", "type": "quantitative", "scale": {"domain": [-2.31, 1], "nice": false, "zero": false}, "axis": {"orient": "right", "values": [-2, -1, 0, 1], "format": "d", "title": null}},
           "color": {"field": "fp", "type": "nominal", "scale": {"domain": ["f1","f2","f3","f4","f5","f6","f7","f8"], "range": ["#0000ff","#0080ff","#00ffff","#80ff80","#ffff00","#ff8000","#ff0000","#800000"]}, "legend": null},
           "detail": {"field": "s", "type": "nominal"}}},
        {"data": {"values": [{"t": "(b) O2A squeeze"}]}, "mark": {"type": "text", "font": "DejaVu Sans", "fontSize": 19, "color": "#000000", "baseline": "middle"},
         "encoding": {"x": {"datum": {"year":2015,"month":5,"date":6,"utc":true}, "type": "temporal", "axis": null}, "y": {"datum": 0.641}, "text": {"field": "t"}}}
      ]},
      {"data": {"name": "cbar"}, "mark": {"type": "bar"},
       "encoding": {
         "x": {"field": "n", "type": "ordinal", "scale": {"type": "band", "range": [-191.5, 128.5], "paddingInner": 0, "paddingOuter": 0}, "axis": {"orient": "bottom", "ticks": false, "domain": false, "labelAngle": 0, "labelPadding": 1, "labelFontSize": 17, "title": "Footprint index", "titleFont": "DejaVu Sans", "titleFontSize": 18, "titlePadding": 5}},
         "y": {"datum": -1.971}, "y2": {"datum": -2.131},
         "color": {"field": "fp", "type": "nominal", "scale": {"domain": ["f1","f2","f3","f4","f5","f6","f7","f8"], "range": ["#0000ff","#0080ff","#00ffff","#80ff80","#ffff00","#ff8000","#ff0000","#800000"]}, "legend": null}}}
    ],
    "resolve": {"scale": {"x": "independent"}, "axis": {"x": "independent"}}
  },
  {
    "width": 420, "height": 166,
    "layer": [
      {"data": {"name": "gaps"}, "mark": {"type": "rect", "color": "#e6e6e6"},
       "encoding": {
         "x": {"field": "o1", "type": "quantitative", "scale": {"domain": [950, 7985], "nice": false, "zero": false}, "axis": null},
         "x2": {"field": "o2"},
         "y": {"datum": -0.02}, "y2": {"datum": -0.0395}}},
      {"layer": [
        {"data": {"name": "c"}, "transform": [{"fold": ["f1","f2","f3","f4","f5","f6","f7","f8"], "as": ["fp","v"]}],
         "mark": {"type": "line", "strokeWidth": 3, "strokeJoin": "round"},
         "encoding": {
           "x": {"field": "d", "type": "temporal", "scale": {"type": "utc", "nice": false, "domain": [{"year":2014,"month":9,"date":5,"utc":true},{"year":2016,"month":1,"date":1,"utc":true}]}, "axis": null},
           "y": {"field": "v", "type": "quantitative", "scale": {"domain": [-0.04, -0.02], "nice": false, "zero": false}, "axis": {"orient": "left", "values": [-0.04, -0.03, -0.02], "format": "~g", "title": "Wavelength shift [nm]", "titlePadding": 8}},
           "color": {"field": "fp", "type": "nominal", "scale": {"domain": ["f1","f2","f3","f4","f5","f6","f7","f8"], "range": ["#0000ff","#0080ff","#00ffff","#80ff80","#ffff00","#ff8000","#ff0000","#800000"]}, "legend": null},
           "detail": {"field": "s", "type": "nominal"}}},
        {"data": {"values": [{"t": "(c) WCO2 shift"}]}, "mark": {"type": "text", "font": "DejaVu Sans", "fontSize": 19, "color": "#000000", "baseline": "middle"},
         "encoding": {"x": {"datum": {"year":2015,"month":5,"date":6,"utc":true}, "type": "temporal", "axis": null}, "y": {"datum": -0.02217}, "text": {"field": "t"}}}
      ]}
    ],
    "resolve": {"scale": {"x": "independent"}, "axis": {"x": "independent"}}
  },
  {
    "width": 420, "height": 166,
    "layer": [
      {"data": {"name": "gaps"}, "mark": {"type": "rect", "color": "#e6e6e6"},
       "encoding": {
         "x": {"field": "o1", "type": "quantitative", "scale": {"domain": [950, 7985], "nice": false, "zero": false}, "axis": null},
         "x2": {"field": "o2"},
         "y": {"datum": 1}, "y2": {"datum": -2.24}}},
      {"layer": [
        {"data": {"name": "dd"}, "transform": [{"fold": ["f1","f2","f3","f4","f5","f6","f7","f8"], "as": ["fp","v"]}],
         "mark": {"type": "line", "strokeWidth": 4.5, "strokeJoin": "round"},
         "encoding": {
           "x": {"field": "d", "type": "temporal", "scale": {"type": "utc", "nice": false, "domain": [{"year":2014,"month":9,"date":5,"utc":true},{"year":2016,"month":1,"date":1,"utc":true}]}, "axis": null},
           "y": {"field": "v", "type": "quantitative", "scale": {"domain": [-2.31, 1], "nice": false, "zero": false}, "axis": {"orient": "right", "values": [-2, -1, 0, 1], "format": "d", "title": "(Wavelength squeeze\u22121)\u00d710\u2074", "titleAngle": 270, "titleBaseline": "top", "titlePadding": 9}},
           "color": {"field": "fp", "type": "nominal", "scale": {"domain": ["f1","f2","f3","f4","f5","f6","f7","f8"], "range": ["#0000ff","#0080ff","#00ffff","#80ff80","#ffff00","#ff8000","#ff0000","#800000"]}, "legend": null},
           "detail": {"field": "s", "type": "nominal"}}},
        {"data": {"values": [{"t": "(d) WCO2 squeeze"}]}, "mark": {"type": "text", "font": "DejaVu Sans", "fontSize": 19, "color": "#000000", "baseline": "middle"},
         "encoding": {"x": {"datum": {"year":2015,"month":5,"date":6,"utc":true}, "type": "temporal", "axis": null}, "y": {"datum": 0.641}, "text": {"field": "t"}}}
      ]}
    ],
    "resolve": {"scale": {"x": "independent"}, "axis": {"x": "independent"}}
  },
  {
    "width": 420, "height": 166,
    "layer": [
      {"data": {"name": "gaps"}, "mark": {"type": "rect", "color": "#e6e6e6"},
       "encoding": {
         "x": {"field": "o1", "type": "quantitative", "scale": {"domain": [950, 7985], "nice": false, "zero": false}, "axis": null},
         "x2": {"field": "o2"},
         "y": {"datum": -0.03}, "y2": {"datum": -0.0595}}},
      {"layer": [
        {"data": {"name": "e"}, "transform": [{"fold": ["f1","f2","f3","f4","f5","f6","f7","f8"], "as": ["fp","v"]}],
         "mark": {"type": "line", "strokeWidth": 3.2, "strokeJoin": "round"},
         "encoding": {
           "x": {"field": "d", "type": "temporal", "scale": {"type": "utc", "nice": false, "domain": [{"year":2014,"month":9,"date":5,"utc":true},{"year":2016,"month":1,"date":1,"utc":true}]}, "axis": {"orient": "bottom", "values": [{"year":2014,"month":10,"date":1,"utc":true},{"year":2014,"month":12,"date":1,"utc":true},{"year":2015,"month":2,"date":1,"utc":true},{"year":2015,"month":4,"date":1,"utc":true},{"year":2015,"month":6,"date":1,"utc":true},{"year":2015,"month":8,"date":1,"utc":true},{"year":2015,"month":10,"date":1,"utc":true},{"year":2015,"month":12,"date":1,"utc":true}], "format": "%b", "title": "Months in 2014\u20132015", "titlePadding": 2}},
           "y": {"field": "v", "type": "quantitative", "scale": {"domain": [-0.06, -0.03], "nice": false, "zero": false}, "axis": {"orient": "left", "values": [-0.06, -0.05, -0.04, -0.03], "format": "~g", "title": null}},
           "color": {"field": "fp", "type": "nominal", "scale": {"domain": ["f1","f2","f3","f4","f5","f6","f7","f8"], "range": ["#0000ff","#0080ff","#00ffff","#80ff80","#ffff00","#ff8000","#ff0000","#800000"]}, "legend": null},
           "detail": {"field": "s", "type": "nominal"}}},
        {"data": {"values": [{"t": "(e) SCO2 shift"}]}, "mark": {"type": "text", "font": "DejaVu Sans", "fontSize": 19, "color": "#000000", "baseline": "middle"},
         "encoding": {"x": {"datum": {"year":2015,"month":5,"date":6,"utc":true}, "type": "temporal"}, "y": {"datum": -0.03327}, "text": {"field": "t"}}}
      ]}
    ],
    "resolve": {"scale": {"x": "independent"}, "axis": {"x": "independent"}}
  },
  {
    "width": 420, "height": 166,
    "layer": [
      {"data": {"name": "gaps"}, "mark": {"type": "rect", "color": "#e6e6e6"},
       "encoding": {
         "x": {"field": "o1", "type": "quantitative", "scale": {"domain": [950, 7985], "nice": false, "zero": false}, "axis": null},
         "x2": {"field": "o2"},
         "y": {"datum": 1}, "y2": {"datum": -2.25}}},
      {"layer": [
        {"data": {"name": "f"}, "transform": [{"fold": ["f1","f2","f3","f4","f5","f6","f7","f8"], "as": ["fp","v"]}],
         "mark": {"type": "circle", "size": 22, "opacity": 1},
         "encoding": {
           "x": {"field": "d", "type": "temporal", "scale": {"type": "utc", "nice": false, "domain": [{"year":2014,"month":9,"date":5,"utc":true},{"year":2016,"month":1,"date":1,"utc":true}]}, "axis": {"orient": "bottom", "values": [{"year":2014,"month":10,"date":1,"utc":true},{"year":2014,"month":12,"date":1,"utc":true},{"year":2015,"month":2,"date":1,"utc":true},{"year":2015,"month":4,"date":1,"utc":true},{"year":2015,"month":6,"date":1,"utc":true},{"year":2015,"month":8,"date":1,"utc":true},{"year":2015,"month":10,"date":1,"utc":true},{"year":2015,"month":12,"date":1,"utc":true}], "format": "%b", "title": "Months in 2014\u20132015", "titlePadding": 2}},
           "y": {"field": "v", "type": "quantitative", "scale": {"domain": [-2.31, 1], "nice": false, "zero": false}, "axis": {"orient": "right", "values": [-2, -1, 0, 1], "format": "d", "title": null}},
           "color": {"field": "fp", "type": "nominal", "scale": {"domain": ["f1","f2","f3","f4","f5","f6","f7","f8"], "range": ["#0000ff","#0080ff","#00ffff","#80ff80","#ffff00","#ff8000","#ff0000","#800000"]}, "legend": null},
           "order": {"field": "fp"}}},
        {"data": {"values": [{"t": "(f) SCO2 squeeze"}]}, "mark": {"type": "text", "font": "DejaVu Sans", "fontSize": 19, "color": "#000000", "baseline": "middle"},
         "encoding": {"x": {"datum": {"year":2015,"month":5,"date":6,"utc":true}, "type": "temporal"}, "y": {"datum": 0.641}, "text": {"field": "t"}}}
      ]}
    ],
    "resolve": {"scale": {"x": "independent"}, "axis": {"x": "independent"}}
  }
]
}
